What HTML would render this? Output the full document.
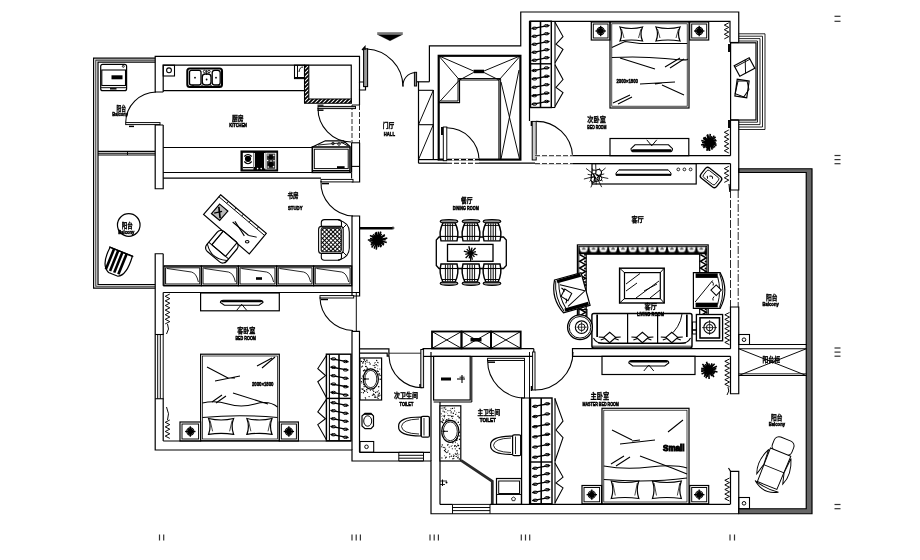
<!DOCTYPE html>
<html><head><meta charset="utf-8"><title>户型平面图</title>
<style>
html,body{margin:0;padding:0;background:#fff;}
body{width:920px;height:560px;overflow:hidden;}
svg{display:block;filter:grayscale(1)}
text{font-family:"Liberation Sans","Noto Sans CJK SC",sans-serif;fill:#000;}
</style></head><body>
<svg width="920" height="560" viewBox="0 0 920 560" shape-rendering="geometricPrecision">
<defs>
<pattern id="dots" width="3" height="3" patternUnits="userSpaceOnUse" patternTransform="rotate(45)"><rect width="3" height="3" fill="#fff"/><path d="M0 0.5 H3 M0.5 0 V3" stroke="#000" stroke-width="0.95"/></pattern>
<pattern id="rugp" width="9.8" height="7.9" patternUnits="userSpaceOnUse" x="578.8" y="246.4"><rect width="9.8" height="7.9" fill="#000"/><path d="M0.5 0.5 H9.3 L8 5.2 Q4.9 6.4 1.8 5.2 Z" fill="#fff"/><path d="M3 2.8 H6.8 M4.9 0.8 V2.8" stroke="#000" stroke-width="0.8"/></pattern>
<clipPath id="hc"><path d="M304.5 65.2 H308.8 V99 H351.4 V103.2 H304.5 Z"/></clipPath>
</defs>
<rect width="920" height="560" fill="#fff"/>
<g>
<path d="M155.20 58.20 L93.60 58.20 L93.60 288.20 L155.20 288.20" stroke="#000" stroke-width="1.20" fill="none" />
<path d="M155.20 60.10 L95.80 60.10 L95.80 286.30 L155.20 286.30" stroke="#333" stroke-width="1.08" fill="none" />
<path d="M155.20 62.10 L98.00 62.10 L98.00 284.50 L155.20 284.50" stroke="#000" stroke-width="1.20" fill="none" />
<line x1="98" y1="151.4" x2="155.2" y2="151.4" stroke="#000" stroke-width="1.08" />
<line x1="98" y1="153.2" x2="155.2" y2="153.2" stroke="#000" stroke-width="1.08" />
<line x1="98" y1="155" x2="155.2" y2="155" stroke="#000" stroke-width="1.08" />
<line x1="127.5" y1="151.4" x2="127.5" y2="155" stroke="#000" stroke-width="0.96" />
<rect x="100.70" y="64.30" width="25.90" height="26.40" rx="2" stroke="#000" stroke-width="1.20" fill="none" />
<rect x="101.80" y="70.00" width="23.70" height="15.50" rx="0" stroke="#000" stroke-width="1.08" fill="none" />
<line x1="101" y1="87.7" x2="126" y2="87.7" stroke="#000" stroke-width="0.96" />
<rect x="111.50" y="75.30" width="11.00" height="4.00" rx="0" stroke="#000" stroke-width="0.00" fill="#000" />
<circle cx="123.30" cy="66.30" r="1" stroke="#000" stroke-width="0.84" fill="none"/>
<line x1="110" y1="88.8" x2="116.5" y2="88.8" stroke="#000" stroke-width="1.44" />
<text x="116.50" y="111.30" font-size="6.74" font-weight="bold" textLength="9.50" lengthAdjust="spacingAndGlyphs" stroke="#000" stroke-width="0.3">阳台</text>
<text x="112.30" y="116.29" font-size="5.87" font-weight="bold" textLength="15.70" lengthAdjust="spacingAndGlyphs" stroke="#000" stroke-width="0.55">Balcony</text>
<path d="M163.20 92.00 L155.20 92.00 L155.20 56.40 L359.50 56.40 L359.50 82.00 L365.50 82.00 L365.50 90.00 L359.50 90.00 L359.50 105.00" stroke="#000" stroke-width="1.20" fill="none" />
<path d="M163.20 92.00 L163.20 65.20 L351.25 65.20 L351.25 99.00" stroke="#000" stroke-width="1.20" fill="none" />
<line x1="163.2" y1="90.6" x2="304.5" y2="90.6" stroke="#000" stroke-width="1.20" />
<rect x="125.70" y="122.60" width="34.30" height="2.00" rx="0" stroke="#000" stroke-width="0.96" fill="#fff" />
<path d="M125.7 122.6 A31 31 0 0 1 156 92" stroke="#000" stroke-width="1.08" fill="none" />
<line x1="129" y1="126.4" x2="134" y2="126.4" stroke="#000" stroke-width="1.44" />
<path d="M163.20 125.00 L155.20 125.00 L155.20 188.75 L163.20 188.75 L163.20 125.00" stroke="#000" stroke-width="1.20" fill="none" />
<line x1="163.2" y1="147.5" x2="312.5" y2="147.5" stroke="#000" stroke-width="1.20" />
<line x1="163.2" y1="172.5" x2="351.25" y2="172.5" stroke="#000" stroke-width="1.20" />
<line x1="163.2" y1="178.2" x2="321" y2="178.2" stroke="#000" stroke-width="1.20" />
<rect x="163.20" y="65.20" width="11.30" height="10.80" rx="0" stroke="#000" stroke-width="1.08" fill="none" />
<circle cx="169.00" cy="70.30" r="2.4" stroke="#000" stroke-width="1.08" fill="none"/>
<rect x="187.30" y="68.40" width="34.70" height="18.60" rx="2.5" stroke="#000" stroke-width="2.04" fill="none" />
<rect x="189.50" y="70.30" width="11.50" height="14.70" rx="2" stroke="#000" stroke-width="1.32" fill="none" />
<rect x="212.20" y="70.30" width="8.00" height="14.70" rx="2.5" stroke="#000" stroke-width="1.32" fill="none" />
<rect x="202.30" y="74.00" width="8.70" height="11.00" rx="3" stroke="#000" stroke-width="1.32" fill="none" />
<circle cx="195.00" cy="77.70" r="0.9" stroke="#000" stroke-width="0.00" fill="#000"/>
<circle cx="216.00" cy="77.70" r="0.9" stroke="#000" stroke-width="0.00" fill="#000"/>
<circle cx="206.60" cy="79.50" r="0.9" stroke="#000" stroke-width="0.00" fill="#000"/>
<circle cx="204.50" cy="71.50" r="1.2" stroke="#000" stroke-width="0.84" fill="none"/>
<circle cx="209.00" cy="71.50" r="1.2" stroke="#000" stroke-width="0.84" fill="none"/>
<line x1="206.7" y1="70" x2="206.7" y2="75" stroke="#000" stroke-width="0.96" />
<circle cx="193.00" cy="86.20" r="0.9" stroke="#000" stroke-width="0.72" fill="none"/>
<circle cx="202.00" cy="86.20" r="0.9" stroke="#000" stroke-width="0.72" fill="none"/>
<circle cx="211.00" cy="86.20" r="0.9" stroke="#000" stroke-width="0.72" fill="none"/>
<circle cx="219.00" cy="86.20" r="0.9" stroke="#000" stroke-width="0.72" fill="none"/>
<rect x="294.50" y="65.20" width="10.00" height="13.40" rx="0" stroke="#000" stroke-width="1.08" fill="none" />
<line x1="297.5" y1="65.2" x2="297.5" y2="78.6" stroke="#000" stroke-width="0.96" />
<path d="M299 72 Q299.5 67 303 67" stroke="#000" stroke-width="0.96" fill="none" />
<line x1="294.5" y1="77.6" x2="304.5" y2="77.6" stroke="#000" stroke-width="1.20" />
<g clip-path="url(#hc)">
<line x1="240" y1="108" x2="285" y2="63" stroke="#000" stroke-width="1.80" />
<line x1="244" y1="108" x2="289" y2="63" stroke="#000" stroke-width="1.80" />
<line x1="248" y1="108" x2="293" y2="63" stroke="#000" stroke-width="1.80" />
<line x1="252" y1="108" x2="297" y2="63" stroke="#000" stroke-width="1.80" />
<line x1="256" y1="108" x2="301" y2="63" stroke="#000" stroke-width="1.80" />
<line x1="260" y1="108" x2="305" y2="63" stroke="#000" stroke-width="1.80" />
<line x1="264" y1="108" x2="309" y2="63" stroke="#000" stroke-width="1.80" />
<line x1="268" y1="108" x2="313" y2="63" stroke="#000" stroke-width="1.80" />
<line x1="272" y1="108" x2="317" y2="63" stroke="#000" stroke-width="1.80" />
<line x1="276" y1="108" x2="321" y2="63" stroke="#000" stroke-width="1.80" />
<line x1="280" y1="108" x2="325" y2="63" stroke="#000" stroke-width="1.80" />
<line x1="284" y1="108" x2="329" y2="63" stroke="#000" stroke-width="1.80" />
<line x1="288" y1="108" x2="333" y2="63" stroke="#000" stroke-width="1.80" />
<line x1="292" y1="108" x2="337" y2="63" stroke="#000" stroke-width="1.80" />
<line x1="296" y1="108" x2="341" y2="63" stroke="#000" stroke-width="1.80" />
<line x1="300" y1="108" x2="345" y2="63" stroke="#000" stroke-width="1.80" />
<line x1="304" y1="108" x2="349" y2="63" stroke="#000" stroke-width="1.80" />
<line x1="308" y1="108" x2="353" y2="63" stroke="#000" stroke-width="1.80" />
<line x1="312" y1="108" x2="357" y2="63" stroke="#000" stroke-width="1.80" />
<line x1="316" y1="108" x2="361" y2="63" stroke="#000" stroke-width="1.80" />
<line x1="320" y1="108" x2="365" y2="63" stroke="#000" stroke-width="1.80" />
<line x1="324" y1="108" x2="369" y2="63" stroke="#000" stroke-width="1.80" />
<line x1="328" y1="108" x2="373" y2="63" stroke="#000" stroke-width="1.80" />
<line x1="332" y1="108" x2="377" y2="63" stroke="#000" stroke-width="1.80" />
<line x1="336" y1="108" x2="381" y2="63" stroke="#000" stroke-width="1.80" />
<line x1="340" y1="108" x2="385" y2="63" stroke="#000" stroke-width="1.80" />
<line x1="344" y1="108" x2="389" y2="63" stroke="#000" stroke-width="1.80" />
<line x1="348" y1="108" x2="393" y2="63" stroke="#000" stroke-width="1.80" />
<line x1="352" y1="108" x2="397" y2="63" stroke="#000" stroke-width="1.80" />
<line x1="356" y1="108" x2="401" y2="63" stroke="#000" stroke-width="1.80" />
<line x1="360" y1="108" x2="405" y2="63" stroke="#000" stroke-width="1.80" />
<line x1="364" y1="108" x2="409" y2="63" stroke="#000" stroke-width="1.80" />
<line x1="368" y1="108" x2="413" y2="63" stroke="#000" stroke-width="1.80" />
<line x1="372" y1="108" x2="417" y2="63" stroke="#000" stroke-width="1.80" />
<line x1="376" y1="108" x2="421" y2="63" stroke="#000" stroke-width="1.80" />
<line x1="380" y1="108" x2="425" y2="63" stroke="#000" stroke-width="1.80" />
<line x1="384" y1="108" x2="429" y2="63" stroke="#000" stroke-width="1.80" />
<line x1="388" y1="108" x2="433" y2="63" stroke="#000" stroke-width="1.80" />
<line x1="392" y1="108" x2="437" y2="63" stroke="#000" stroke-width="1.80" />
<line x1="396" y1="108" x2="441" y2="63" stroke="#000" stroke-width="1.80" />
<line x1="400" y1="108" x2="445" y2="63" stroke="#000" stroke-width="1.80" />
<line x1="404" y1="108" x2="449" y2="63" stroke="#000" stroke-width="1.80" />
<line x1="408" y1="108" x2="453" y2="63" stroke="#000" stroke-width="1.80" />
<line x1="412" y1="108" x2="457" y2="63" stroke="#000" stroke-width="1.80" />
<line x1="416" y1="108" x2="461" y2="63" stroke="#000" stroke-width="1.80" />
</g>
<path d="M304.50 65.20 L308.80 65.20 L308.80 99.00 L351.40 99.00 L351.40 103.20 L304.50 103.20 Z" stroke="#000" stroke-width="1.08" fill="none" />
<line x1="352" y1="105" x2="352" y2="143" stroke="#000" stroke-width="0.84" stroke-dasharray="5 2"/>
<line x1="359.5" y1="105" x2="359.5" y2="143" stroke="#000" stroke-width="0.84" stroke-dasharray="5 2"/>
<line x1="352" y1="105" x2="359.5" y2="105" stroke="#000" stroke-width="0.96" />
<path d="M351.60 142.80 L351.60 172.50" stroke="#000" stroke-width="1.20" fill="none" />
<path d="M359.60 142.80 L359.60 182.00 L351.60 182.00" stroke="#000" stroke-width="1.20" fill="none" />
<line x1="351.6" y1="142.8" x2="359.6" y2="142.8" stroke="#000" stroke-width="1.08" />
<line x1="351.6" y1="166.4" x2="359.6" y2="166.4" stroke="#000" stroke-width="1.08" />
<line x1="351.6" y1="172.5" x2="351.6" y2="178.5" stroke="#000" stroke-width="1.08" />
<rect x="318.00" y="106.40" width="37.50" height="2.20" rx="0" stroke="#000" stroke-width="0.96" fill="#bbb" />
<line x1="317.5" y1="110.2" x2="323.5" y2="110.2" stroke="#000" stroke-width="1.44" />
<line x1="317.5" y1="105.2" x2="323.5" y2="105.2" stroke="#000" stroke-width="1.20" />
<path d="M318 108 A33.5 33.5 0 0 0 351 142" stroke="#000" stroke-width="1.08" fill="none" />
<rect x="241.20" y="151.20" width="36.20" height="19.60" rx="0" stroke="#000" stroke-width="1.44" fill="#000" />
<rect x="242.80" y="152.80" width="10.60" height="16.60" rx="0" stroke="#000" stroke-width="0.00" fill="#fff" />
<circle cx="248.00" cy="158.80" r="3.1" stroke="#000" stroke-width="0.00" fill="#000"/>
<path d="M244.3 156.5 Q248 152.5 251.7 156.5 M244.3 161.5 Q248 166 251.7 161.5" stroke="#000" stroke-width="1.20" fill="none" />
<line x1="243" y1="167.6" x2="253.2" y2="167.6" stroke="#000" stroke-width="1.08" />
<line x1="254.3" y1="153" x2="254.3" y2="167" stroke="#fff" stroke-width="1.08" />
<rect x="265.30" y="152.80" width="11.10" height="16.60" rx="0" stroke="#000" stroke-width="0.00" fill="#fff" />
<line x1="264.6" y1="153" x2="264.6" y2="168.5" stroke="#fff" stroke-width="1.08" />
<rect x="266.60" y="153.60" width="8.60" height="15.20" rx="0" stroke="#000" stroke-width="0.00" fill="#333" />
<circle cx="270.80" cy="157.30" r="2.3" stroke="#000" stroke-width="0.00" fill="#000"/>
<circle cx="270.80" cy="164.30" r="2.6" stroke="#000" stroke-width="0.00" fill="#000"/>
<circle cx="268.00" cy="155.00" r="0.8" stroke="#000" stroke-width="0.00" fill="#fff"/>
<circle cx="273.80" cy="155.20" r="0.8" stroke="#000" stroke-width="0.00" fill="#fff"/>
<circle cx="267.60" cy="160.50" r="0.8" stroke="#000" stroke-width="0.00" fill="#fff"/>
<circle cx="274.00" cy="160.80" r="0.8" stroke="#000" stroke-width="0.00" fill="#fff"/>
<circle cx="268.20" cy="167.00" r="0.8" stroke="#000" stroke-width="0.00" fill="#fff"/>
<circle cx="273.60" cy="166.80" r="0.8" stroke="#000" stroke-width="0.00" fill="#fff"/>
<circle cx="271.00" cy="161.00" r="0.8" stroke="#000" stroke-width="0.00" fill="#fff"/>
<circle cx="257.60" cy="168.60" r="0.8" stroke="#000" stroke-width="0.00" fill="#fff"/>
<circle cx="261.20" cy="168.60" r="0.8" stroke="#000" stroke-width="0.00" fill="#fff"/>
<rect x="312.30" y="147.00" width="37.70" height="25.40" rx="0" stroke="#000" stroke-width="1.56" fill="none" />
<rect x="314.30" y="149.20" width="33.90" height="19.40" rx="0" stroke="#000" stroke-width="0.96" fill="none" />
<line x1="312.3" y1="170.6" x2="350" y2="170.6" stroke="#000" stroke-width="1.44" />
<path d="M312.30 147.00 L325.30 140.80 L343.50 140.80 L350.00 146.50" stroke="#000" stroke-width="1.20" fill="none" />
<line x1="318" y1="145" x2="345" y2="142.5" stroke="#000" stroke-width="0.84" />
<circle cx="333.00" cy="143.50" r="1.3" stroke="#000" stroke-width="0.84" fill="none"/>
<circle cx="339.00" cy="144.00" r="1.3" stroke="#000" stroke-width="0.84" fill="none"/>
<line x1="341" y1="142" x2="348" y2="146" stroke="#000" stroke-width="0.96" />
<rect x="337.00" y="166.20" width="7.60" height="2.20" rx="0" stroke="#000" stroke-width="0.00" fill="#000" />
<text x="232.00" y="120.80" font-size="6.74" font-weight="bold" textLength="11.60" lengthAdjust="spacingAndGlyphs" stroke="#000" stroke-width="0.3">厨房</text>
<text x="229.30" y="127.34" font-size="6.01" font-weight="bold" textLength="17.70" lengthAdjust="spacingAndGlyphs" stroke="#000" stroke-width="0.55">KITCHEN</text>
<rect x="321.00" y="179.40" width="32.00" height="2.50" rx="0" stroke="#000" stroke-width="0.96" fill="#fff" />
<line x1="322" y1="183.6" x2="329" y2="183.6" stroke="#000" stroke-width="1.44" />
<path d="M321 181 A33.5 33.5 0 0 0 353 216" stroke="#000" stroke-width="1.08" fill="none" />
<path d="M352.00 292.50 L352.00 216.00 L359.60 216.00 L359.60 296.00 L352.00 296.00 L352.00 292.50" stroke="#000" stroke-width="1.20" fill="none" />
<path d="M163.20 253.75 L155.20 253.75 L155.20 450.00 L352.00 450.00 L352.00 461.00 L431.00 461.00 L431.00 513.75 L738.75 513.75" stroke="#000" stroke-width="1.20" fill="none" />
<line x1="163.2" y1="253.75" x2="163.2" y2="285.7" stroke="#000" stroke-width="1.20" />
<line x1="163.2" y1="285.7" x2="352" y2="285.7" stroke="#000" stroke-width="1.20" />
<line x1="163.2" y1="292.5" x2="359.5" y2="292.5" stroke="#000" stroke-width="1.20" />
<line x1="164" y1="266" x2="351.7" y2="266" stroke="#000" stroke-width="1.20" />
<rect x="164.00" y="266.00" width="37.40" height="19.70" rx="0" stroke="#000" stroke-width="1.20" fill="none" />
<rect x="165.60" y="267.80" width="34.20" height="16.20" rx="0" stroke="#000" stroke-width="0.96" fill="none" />
<path d="M167 268.5 L191.4 272 Q196.4 273 198.4 282" stroke="#000" stroke-width="0.84" fill="none" />
<rect x="201.40" y="266.00" width="37.00" height="19.70" rx="0" stroke="#000" stroke-width="1.20" fill="none" />
<rect x="203.00" y="267.80" width="33.80" height="16.20" rx="0" stroke="#000" stroke-width="0.96" fill="none" />
<path d="M204.4 268.5 L228.4 272 Q233.4 273 235.4 282" stroke="#000" stroke-width="0.84" fill="none" />
<rect x="238.40" y="266.00" width="38.20" height="19.70" rx="0" stroke="#000" stroke-width="1.20" fill="none" />
<rect x="240.00" y="267.80" width="35.00" height="16.20" rx="0" stroke="#000" stroke-width="0.96" fill="none" />
<path d="M241.4 268.5 L266.6 272 Q271.6 273 273.6 282" stroke="#000" stroke-width="0.84" fill="none" />
<rect x="276.60" y="266.00" width="37.00" height="19.70" rx="0" stroke="#000" stroke-width="1.20" fill="none" />
<rect x="278.20" y="267.80" width="33.80" height="16.20" rx="0" stroke="#000" stroke-width="0.96" fill="none" />
<path d="M279.6 268.5 L303.6 272 Q308.6 273 310.6 282" stroke="#000" stroke-width="0.84" fill="none" />
<rect x="313.60" y="266.00" width="38.10" height="19.70" rx="0" stroke="#000" stroke-width="1.20" fill="none" />
<rect x="315.20" y="267.80" width="34.90" height="16.20" rx="0" stroke="#000" stroke-width="0.96" fill="none" />
<path d="M316.6 268.5 L341.7 272 Q346.7 273 348.7 282" stroke="#000" stroke-width="0.84" fill="none" />
<rect x="256.00" y="277.20" width="6.00" height="2.60" rx="0" stroke="#000" stroke-width="0.00" fill="#000" />
<path d="M220.60 194.80 L266.30 233.40 L249.30 254.00 L203.60 214.40 Z" stroke="#000" stroke-width="1.20" fill="none" />
<path d="M218.90 196.76 L264.60 235.46" stroke="#000" stroke-width="0.96" fill="none" />
<path d="M228.37 201.36 L226.67 203.34" stroke="#000" stroke-width="0.96" fill="none" />
<path d="M236.14 207.92 L234.44 209.92" stroke="#000" stroke-width="0.96" fill="none" />
<path d="M243.45 214.10 L241.75 216.11" stroke="#000" stroke-width="0.96" fill="none" />
<path d="M250.76 220.28 L249.06 222.30" stroke="#000" stroke-width="0.96" fill="none" />
<path d="M258.53 226.84 L256.83 228.88" stroke="#000" stroke-width="0.96" fill="none" />
<path d="M219.61 204.15 L227.84 211.10 L219.68 220.51 L211.45 213.56 Z" stroke="#000" stroke-width="1.20" fill="#bbb" />
<path d="M218.83 206.89 L220.12 218.17" stroke="#000" stroke-width="1.68" fill="none" />
<path d="M214.18 213.15 L222.09 211.34" stroke="#000" stroke-width="1.20" fill="none" />
<path d="M232.66 221.97 L248.66 235.48" stroke="#000" stroke-width="1.08" fill="none" />
<path d="M234.94 221.17 L244.34 235.90" stroke="#000" stroke-width="1.08" fill="none" />
<path d="M248.66 235.48 L256.69 237.17" stroke="#000" stroke-width="0.96" fill="none" />
<ellipse cx="247.20" cy="241.72" rx="1.8" ry="1.2" stroke="#000" stroke-width="1.08" fill="none" />
<g transform="translate(222.5,246) rotate(40)">
<rect x="-13.00" y="-12.00" width="26.00" height="26.00" rx="5" stroke="#000" stroke-width="1.20" fill="#fff" />
<rect x="-9.00" y="-12.00" width="18.00" height="18.00" rx="1" stroke="#000" stroke-width="1.08" fill="none" />
<line x1="-13" y1="6" x2="13" y2="6" stroke="#000" stroke-width="0.96" />
<line x1="-9" y1="-12" x2="-9" y2="6" stroke="#000" stroke-width="0.96" />
<path d="M-13 8 Q0 18 13 8" stroke="#000" stroke-width="0.96" fill="none" />
</g>
<text x="287.50" y="197.70" font-size="6.74" font-weight="bold" textLength="11.00" lengthAdjust="spacingAndGlyphs" stroke="#000" stroke-width="0.3">书房</text>
<text x="288.00" y="209.54" font-size="6.01" font-weight="bold" textLength="14.50" lengthAdjust="spacingAndGlyphs" stroke="#000" stroke-width="0.55">STUDY</text>
<rect x="321.30" y="219.60" width="20.20" height="8.40" rx="3.2" stroke="#000" stroke-width="1.08" fill="#fff" />
<rect x="321.30" y="252.00" width="20.20" height="8.20" rx="3.2" stroke="#000" stroke-width="1.08" fill="#fff" />
<path d="M338 219.7 Q349.3 222.5 349.3 232 V248 Q349.3 257.5 338 260.1" stroke="#000" stroke-width="1.08" fill="none" />
<path d="M343 228 L346.5 224.5 M343 252 L346.5 255.5" stroke="#000" stroke-width="0.96" fill="none" />
<rect x="318.60" y="226.40" width="24.60" height="27.00" rx="3" stroke="#000" stroke-width="1.08" fill="#fff" />
<rect x="321.1" y="228" width="20.3" height="23.8" rx="1.5" fill="url(#dots)" stroke="#000" stroke-width="0.9"/>
<line x1="321.5" y1="227.6" x2="341" y2="227.6" stroke="#333" stroke-width="1.92" />
<circle cx="128.75" cy="225.00" r="11.3" stroke="#000" stroke-width="1.20" fill="none"/>
<text x="121.80" y="228.10" font-size="6.74" font-weight="bold" textLength="11.10" lengthAdjust="spacingAndGlyphs" stroke="#000" stroke-width="0.3">阳台</text>
<text x="118.20" y="233.99" font-size="5.87" font-weight="bold" textLength="16.10" lengthAdjust="spacingAndGlyphs" stroke="#000" stroke-width="0.55">Balcony</text>
<g transform="translate(117.5,261) rotate(22)">
<path d="M-12 -10 Q-14 10 -4 14 L6 14 Q14 10 12 -10 Z" stroke="#000" stroke-width="1.20" fill="#fff" />
<rect x="-9.00" y="-10.00" width="2.60" height="22.00" rx="0" stroke="#000" stroke-width="0.00" fill="#000" />
<rect x="-4.50" y="-10.00" width="2.60" height="22.00" rx="0" stroke="#000" stroke-width="0.00" fill="#000" />
<rect x="0.00" y="-10.00" width="2.60" height="22.00" rx="0" stroke="#000" stroke-width="0.00" fill="#000" />
<rect x="4.50" y="-10.00" width="2.60" height="22.00" rx="0" stroke="#000" stroke-width="0.00" fill="#000" />
<path d="M-13 -10 L13 -10" stroke="#000" stroke-width="1.44" fill="none" />
</g>
<line x1="163.2" y1="292.5" x2="163.2" y2="334.5" stroke="#000" stroke-width="1.20" />
<line x1="163.2" y1="398.75" x2="163.2" y2="441" stroke="#000" stroke-width="1.20" />
<line x1="163.2" y1="441" x2="351" y2="441" stroke="#000" stroke-width="1.20" />
<line x1="155.2" y1="334.5" x2="163.8" y2="334.5" stroke="#000" stroke-width="1.08" />
<line x1="155.2" y1="398.75" x2="163.8" y2="398.75" stroke="#000" stroke-width="1.08" />
<line x1="157.7" y1="334.5" x2="157.7" y2="398.75" stroke="#000" stroke-width="0.96" />
<line x1="160.3" y1="334.5" x2="160.3" y2="398.75" stroke="#000" stroke-width="0.96" />
<line x1="163.2" y1="334.5" x2="163.2" y2="398.75" stroke="#000" stroke-width="0.96" />
<path d="M169.80 294.00 L165.20 296.30 L169.80 298.60 L165.20 300.90 L169.80 303.20 L165.20 305.50 L169.80 307.80 L165.20 310.10 L169.80 312.40 L165.20 314.70 L169.80 317.00 L165.20 319.30 L169.80 321.60 L165.20 323.90" stroke="#000" stroke-width="0.96" fill="none" />
<path d="M167.5 324 q2.5 5 -1 10" stroke="#000" stroke-width="0.96" fill="none" />
<path d="M169.80 420.00 L165.20 422.30 L169.80 424.60 L165.20 426.90 L169.80 429.20 L165.20 431.50 L169.80 433.80 L165.20 436.10 L169.80 438.40" stroke="#000" stroke-width="0.96" fill="none" />
<path d="M167.5 420 q2.5 -6 -1 -13" stroke="#000" stroke-width="0.96" fill="none" />
<rect x="200.60" y="293.00" width="78.70" height="17.80" rx="0" stroke="#000" stroke-width="1.20" fill="none" />
<path d="M223.4 300.3 H260 Q263 300.3 263 302.55 L259 305.3 H224.4 L220.4 302.55 Q220.4 300.3 223.4 300.3 Z" stroke="#000" stroke-width="1.08" fill="#fff" />
<rect x="221.40" y="300.30" width="40.60" height="1.90" rx="1" stroke="#000" stroke-width="0.00" fill="#000" />
<line x1="241.7" y1="304.3" x2="236.7" y2="310.3" stroke="#000" stroke-width="0.96" />
<line x1="241.7" y1="304.3" x2="246.7" y2="310.3" stroke="#000" stroke-width="0.96" />
<rect x="200.60" y="354.20" width="78.70" height="86.60" rx="0" stroke="#000" stroke-width="1.20" fill="none" />
<rect x="202.40" y="356.00" width="75.10" height="83.00" rx="0" stroke="#000" stroke-width="0.72" fill="none" />
<rect x="180.00" y="422.00" width="20.60" height="19.00" rx="0" stroke="#000" stroke-width="1.20" fill="none" />
<rect x="182.00" y="424.00" width="16.60" height="15.00" rx="0" stroke="#000" stroke-width="0.96" fill="none" />
<circle cx="190.30" cy="431.50" r="3.6" stroke="#000" stroke-width="1.08" fill="none"/>
<circle cx="190.30" cy="431.50" r="3.0" stroke="#000" stroke-width="0.00" fill="#000"/>
<line x1="185.10000000000002" y1="431.5" x2="195.5" y2="431.5" stroke="#000" stroke-width="1.32" />
<line x1="190.3" y1="426.3" x2="190.3" y2="436.7" stroke="#000" stroke-width="1.32" />
<rect x="279.30" y="422.00" width="19.10" height="19.00" rx="0" stroke="#000" stroke-width="1.20" fill="none" />
<rect x="281.30" y="424.00" width="15.10" height="15.00" rx="0" stroke="#000" stroke-width="0.96" fill="none" />
<circle cx="288.85" cy="431.50" r="3.6" stroke="#000" stroke-width="1.08" fill="none"/>
<circle cx="288.85" cy="431.50" r="3.0" stroke="#000" stroke-width="0.00" fill="#000"/>
<line x1="283.65000000000003" y1="431.5" x2="294.05" y2="431.5" stroke="#000" stroke-width="1.32" />
<line x1="288.85" y1="426.3" x2="288.85" y2="436.7" stroke="#000" stroke-width="1.32" />
<path d="M208.6 418.5 Q221.1 421.5 233.6 418.5 Q230.6 426.4 233.6 434.3 Q221.1 432.3 208.6 434.3 Q211.6 426.4 208.6 418.5Z" stroke="#000" stroke-width="1.20" fill="none" />
<path d="M210.1 420.5 L212.6 431.3 M232.1 420.5 L229.6 431.3" stroke="#000" stroke-width="0.72" fill="none" />
<path d="M246.9 418.5 Q259.45 421.5 272 418.5 Q269 426.4 272 434.3 Q259.45 432.3 246.9 434.3 Q249.9 426.4 246.9 418.5Z" stroke="#000" stroke-width="1.20" fill="none" />
<path d="M248.4 420.5 L250.9 431.3 M270.5 420.5 L268 431.3" stroke="#000" stroke-width="0.72" fill="none" />
<path d="M202.4 403 Q215 400 228 404 T255 404 T277.5 407" stroke="#000" stroke-width="1.08" fill="none" />
<path d="M202.4 417.5 Q240 414 277.5 417.5" stroke="#000" stroke-width="1.08" fill="none" />
<path d="M207 367 L228 378 M215 381 L240 376 M228 378 L235 378 M257 366 L272 358 M262 368 L275 357 M233 393 L268 404 M212 402 L222 395 M216 403 L226 396" stroke="#000" stroke-width="1.08" fill="none" />
<text x="251.90" y="386.04" font-size="6.01" font-weight="bold" textLength="21.50" lengthAdjust="spacingAndGlyphs" stroke="#000" stroke-width="0.5">2000×1800</text>
<text x="237.20" y="332.84" font-size="7.07" font-weight="bold" textLength="18.20" lengthAdjust="spacingAndGlyphs" stroke="#000" stroke-width="0.3">客卧室</text>
<text x="235.40" y="339.94" font-size="6.01" font-weight="bold" textLength="20.50" lengthAdjust="spacingAndGlyphs" stroke="#000" stroke-width="0.55">BED ROOM</text>
<rect x="326.40" y="354.20" width="24.60" height="86.60" rx="0" stroke="#000" stroke-width="1.44" fill="none" />
<line x1="329.4" y1="354.2" x2="329.4" y2="440.8" stroke="#000" stroke-width="1.08" />
<line x1="339" y1="354.2" x2="339" y2="440.8" stroke="#000" stroke-width="1.56" />
<line x1="326.4" y1="398.4" x2="351" y2="398.4" stroke="#000" stroke-width="1.44" />
<line x1="330.5" y1="358.59999999999997" x2="348.5" y2="361.8" stroke="#000" stroke-width="1.32" />
<ellipse cx="333.50" cy="358.90" rx="2.3" ry="1.2" stroke="#000" stroke-width="0.96" fill="none" />
<ellipse cx="345.50" cy="361.50" rx="2.3" ry="1.2" stroke="#000" stroke-width="0.96" fill="none" />
<line x1="330.5" y1="367.0" x2="348.5" y2="370.20000000000005" stroke="#000" stroke-width="1.32" />
<ellipse cx="333.50" cy="367.30" rx="2.3" ry="1.2" stroke="#000" stroke-width="0.96" fill="none" />
<ellipse cx="345.50" cy="369.90" rx="2.3" ry="1.2" stroke="#000" stroke-width="0.96" fill="none" />
<line x1="330.5" y1="375.4" x2="348.5" y2="378.6" stroke="#000" stroke-width="1.32" />
<ellipse cx="333.50" cy="375.70" rx="2.3" ry="1.2" stroke="#000" stroke-width="0.96" fill="none" />
<ellipse cx="345.50" cy="378.30" rx="2.3" ry="1.2" stroke="#000" stroke-width="0.96" fill="none" />
<line x1="330.5" y1="383.79999999999995" x2="348.5" y2="387.0" stroke="#000" stroke-width="1.32" />
<ellipse cx="333.50" cy="384.10" rx="2.3" ry="1.2" stroke="#000" stroke-width="0.96" fill="none" />
<ellipse cx="345.50" cy="386.70" rx="2.3" ry="1.2" stroke="#000" stroke-width="0.96" fill="none" />
<line x1="330.5" y1="392.2" x2="348.5" y2="395.40000000000003" stroke="#000" stroke-width="1.32" />
<ellipse cx="333.50" cy="392.50" rx="2.3" ry="1.2" stroke="#000" stroke-width="0.96" fill="none" />
<ellipse cx="345.50" cy="395.10" rx="2.3" ry="1.2" stroke="#000" stroke-width="0.96" fill="none" />
<line x1="330.5" y1="402.4" x2="348.5" y2="405.6" stroke="#000" stroke-width="1.32" />
<ellipse cx="333.50" cy="402.70" rx="2.3" ry="1.2" stroke="#000" stroke-width="0.96" fill="none" />
<ellipse cx="345.50" cy="405.30" rx="2.3" ry="1.2" stroke="#000" stroke-width="0.96" fill="none" />
<line x1="330.5" y1="410.4" x2="348.5" y2="413.6" stroke="#000" stroke-width="1.32" />
<ellipse cx="333.50" cy="410.70" rx="2.3" ry="1.2" stroke="#000" stroke-width="0.96" fill="none" />
<ellipse cx="345.50" cy="413.30" rx="2.3" ry="1.2" stroke="#000" stroke-width="0.96" fill="none" />
<line x1="330.5" y1="418.4" x2="348.5" y2="421.6" stroke="#000" stroke-width="1.32" />
<ellipse cx="333.50" cy="418.70" rx="2.3" ry="1.2" stroke="#000" stroke-width="0.96" fill="none" />
<ellipse cx="345.50" cy="421.30" rx="2.3" ry="1.2" stroke="#000" stroke-width="0.96" fill="none" />
<line x1="330.5" y1="426.4" x2="348.5" y2="429.6" stroke="#000" stroke-width="1.32" />
<ellipse cx="333.50" cy="426.70" rx="2.3" ry="1.2" stroke="#000" stroke-width="0.96" fill="none" />
<ellipse cx="345.50" cy="429.30" rx="2.3" ry="1.2" stroke="#000" stroke-width="0.96" fill="none" />
<line x1="330.5" y1="434.4" x2="348.5" y2="437.6" stroke="#000" stroke-width="1.32" />
<ellipse cx="333.50" cy="434.70" rx="2.3" ry="1.2" stroke="#000" stroke-width="0.96" fill="none" />
<ellipse cx="345.50" cy="437.30" rx="2.3" ry="1.2" stroke="#000" stroke-width="0.96" fill="none" />
<path d="M326.40 355.50 L317.80 368.55 L325.50 375.57 L317.80 381.72 L326.40 397.40" stroke="#000" stroke-width="1.08" fill="none" />
<path d="M326.40 399.40 L317.80 411.97 L325.50 418.75 L317.80 424.69 L326.40 439.80" stroke="#000" stroke-width="1.08" fill="none" />
<rect x="320.00" y="295.60" width="33.70" height="2.40" rx="0" stroke="#000" stroke-width="0.96" fill="#fff" />
<line x1="321" y1="299.5" x2="328" y2="299.5" stroke="#000" stroke-width="1.44" />
<path d="M320 297.5 A33.5 33.5 0 0 0 353 330.5" stroke="#000" stroke-width="1.08" fill="none" />
<line x1="356.3" y1="292.5" x2="356.3" y2="331.3" stroke="#000" stroke-width="0.96" />
<path d="M352.00 450.00 L352.00 331.30 L359.50 331.30 L359.50 452.30" stroke="#000" stroke-width="1.20" fill="none" />
<path d="M359.50 348.90 L388.90 348.90 L388.90 356.20 L387.20 356.20 L387.20 353.20 L359.50 353.20" stroke="#000" stroke-width="1.20" fill="none" />
<line x1="388.9" y1="353.2" x2="421" y2="353.2" stroke="#000" stroke-width="0.84" />
<rect x="420.80" y="349.50" width="2.80" height="38.20" rx="0" stroke="#000" stroke-width="0.96" fill="#ddd" />
<path d="M389 356.2 A33 33 0 0 0 422.5 387.7" stroke="#000" stroke-width="1.08" fill="none" />
<line x1="420" y1="388" x2="420" y2="384" stroke="#000" stroke-width="1.44" />
<line x1="422.5" y1="348.7" x2="533.8" y2="348.7" stroke="#000" stroke-width="1.20" />
<path d="M423.40 356.40 L431.00 356.40" stroke="#000" stroke-width="1.20" fill="none" />
<line x1="431" y1="352" x2="431" y2="461" stroke="#000" stroke-width="1.20" />
<line x1="359.5" y1="452.3" x2="430" y2="452.3" stroke="#000" stroke-width="1.20" />
<line x1="398.8" y1="452.3" x2="423.5" y2="452.3" stroke="#000" stroke-width="0.96" />
<line x1="398.8" y1="455.3" x2="423.5" y2="455.3" stroke="#000" stroke-width="0.96" />
<line x1="398.8" y1="458.2" x2="423.5" y2="458.2" stroke="#000" stroke-width="0.96" />
<line x1="398.8" y1="461" x2="423.5" y2="461" stroke="#000" stroke-width="0.96" />
<line x1="398.8" y1="452.3" x2="398.8" y2="461" stroke="#000" stroke-width="0.96" />
<line x1="423.5" y1="452.3" x2="423.5" y2="461" stroke="#000" stroke-width="0.96" />
<rect x="360.00" y="358.00" width="21.60" height="42.00" rx="0" stroke="#000" stroke-width="1.20" fill="#fff" />
<circle cx="365.66" cy="380.77" r="0.5479820666192318" stroke="#000" stroke-width="0.00" fill="#000"/>
<circle cx="372.84" cy="384.03" r="0.4262115436959253" stroke="#000" stroke-width="0.00" fill="#000"/>
<circle cx="361.26" cy="392.50" r="0.5037416057312031" stroke="#000" stroke-width="0.00" fill="#000"/>
<circle cx="365.59" cy="398.83" r="0.5881054030089792" stroke="#000" stroke-width="0.00" fill="#000"/>
<circle cx="377.39" cy="378.05" r="0.6556272562176648" stroke="#000" stroke-width="0.00" fill="#000"/>
<circle cx="363.95" cy="384.39" r="0.7472181228573187" stroke="#000" stroke-width="0.00" fill="#000"/>
<circle cx="371.25" cy="388.65" r="0.668564590147837" stroke="#000" stroke-width="0.00" fill="#000"/>
<circle cx="362.26" cy="389.33" r="0.6364398331725271" stroke="#000" stroke-width="0.00" fill="#000"/>
<circle cx="366.90" cy="360.24" r="0.7462108947915783" stroke="#000" stroke-width="0.00" fill="#000"/>
<circle cx="370.27" cy="387.75" r="0.7515251201021927" stroke="#000" stroke-width="0.00" fill="#000"/>
<circle cx="375.00" cy="395.84" r="0.5579853616002977" stroke="#000" stroke-width="0.00" fill="#000"/>
<circle cx="376.70" cy="376.78" r="0.7742346886818084" stroke="#000" stroke-width="0.00" fill="#000"/>
<circle cx="378.23" cy="362.90" r="0.4543875440802676" stroke="#000" stroke-width="0.00" fill="#000"/>
<circle cx="365.25" cy="397.62" r="0.5744647466509718" stroke="#000" stroke-width="0.00" fill="#000"/>
<circle cx="373.28" cy="371.04" r="0.6028971935316239" stroke="#000" stroke-width="0.00" fill="#000"/>
<circle cx="368.56" cy="373.04" r="0.6340296429621455" stroke="#000" stroke-width="0.00" fill="#000"/>
<circle cx="372.45" cy="395.17" r="0.6727928546539867" stroke="#000" stroke-width="0.00" fill="#000"/>
<circle cx="379.21" cy="393.26" r="0.7963958579475261" stroke="#000" stroke-width="0.00" fill="#000"/>
<circle cx="374.16" cy="365.52" r="0.7442550132465073" stroke="#000" stroke-width="0.00" fill="#000"/>
<circle cx="379.91" cy="395.19" r="0.6276430013897294" stroke="#000" stroke-width="0.00" fill="#000"/>
<circle cx="374.99" cy="367.44" r="0.7326431721093417" stroke="#000" stroke-width="0.00" fill="#000"/>
<circle cx="372.24" cy="370.40" r="0.42538423085809174" stroke="#000" stroke-width="0.00" fill="#000"/>
<circle cx="377.74" cy="398.59" r="0.43540723724389135" stroke="#000" stroke-width="0.00" fill="#000"/>
<circle cx="376.69" cy="375.42" r="0.46030614978112383" stroke="#000" stroke-width="0.00" fill="#000"/>
<circle cx="366.76" cy="389.75" r="0.7491068098512805" stroke="#000" stroke-width="0.00" fill="#000"/>
<circle cx="361.87" cy="383.58" r="0.4179760973984145" stroke="#000" stroke-width="0.00" fill="#000"/>
<circle cx="375.08" cy="372.24" r="0.7523621228989432" stroke="#000" stroke-width="0.00" fill="#000"/>
<circle cx="380.22" cy="379.22" r="0.7994035781503106" stroke="#000" stroke-width="0.00" fill="#000"/>
<circle cx="367.07" cy="362.08" r="0.6399051235186404" stroke="#000" stroke-width="0.00" fill="#000"/>
<circle cx="361.62" cy="366.90" r="0.5631744542467964" stroke="#000" stroke-width="0.00" fill="#000"/>
<circle cx="372.97" cy="365.25" r="0.4169743298884817" stroke="#000" stroke-width="0.00" fill="#000"/>
<circle cx="378.01" cy="371.55" r="0.783463770563382" stroke="#000" stroke-width="0.00" fill="#000"/>
<circle cx="378.57" cy="374.11" r="0.5841638531383619" stroke="#000" stroke-width="0.00" fill="#000"/>
<circle cx="371.19" cy="384.76" r="0.6382600953607882" stroke="#000" stroke-width="0.00" fill="#000"/>
<circle cx="371.96" cy="383.81" r="0.7762485021695853" stroke="#000" stroke-width="0.00" fill="#000"/>
<circle cx="370.94" cy="376.25" r="0.6881245008576553" stroke="#000" stroke-width="0.00" fill="#000"/>
<circle cx="365.66" cy="371.04" r="0.7911189265794542" stroke="#000" stroke-width="0.00" fill="#000"/>
<circle cx="371.21" cy="380.94" r="0.40458299454568764" stroke="#000" stroke-width="0.00" fill="#000"/>
<circle cx="369.14" cy="382.20" r="0.40802115612183976" stroke="#000" stroke-width="0.00" fill="#000"/>
<circle cx="373.07" cy="384.29" r="0.42403220425108923" stroke="#000" stroke-width="0.00" fill="#000"/>
<circle cx="373.30" cy="377.65" r="0.6717125592152435" stroke="#000" stroke-width="0.00" fill="#000"/>
<circle cx="367.91" cy="387.28" r="0.6952137157008138" stroke="#000" stroke-width="0.00" fill="#000"/>
<circle cx="361.43" cy="361.42" r="0.6704081237949507" stroke="#000" stroke-width="0.00" fill="#000"/>
<circle cx="379.88" cy="369.04" r="0.5825248518545517" stroke="#000" stroke-width="0.00" fill="#000"/>
<circle cx="372.62" cy="371.80" r="0.5455820357359829" stroke="#000" stroke-width="0.00" fill="#000"/>
<circle cx="367.13" cy="373.77" r="0.6382486023430146" stroke="#000" stroke-width="0.00" fill="#000"/>
<circle cx="366.89" cy="374.09" r="0.7089093649776484" stroke="#000" stroke-width="0.00" fill="#000"/>
<circle cx="361.53" cy="381.77" r="0.6940692726714038" stroke="#000" stroke-width="0.00" fill="#000"/>
<circle cx="367.08" cy="367.90" r="0.7215230681579654" stroke="#000" stroke-width="0.00" fill="#000"/>
<circle cx="365.68" cy="366.50" r="0.5740937282131284" stroke="#000" stroke-width="0.00" fill="#000"/>
<circle cx="374.68" cy="363.07" r="0.5287863938485058" stroke="#000" stroke-width="0.00" fill="#000"/>
<circle cx="367.54" cy="392.34" r="0.5753722930245548" stroke="#000" stroke-width="0.00" fill="#000"/>
<circle cx="377.77" cy="365.77" r="0.5346840940179524" stroke="#000" stroke-width="0.00" fill="#000"/>
<circle cx="373.74" cy="394.40" r="0.580440873714089" stroke="#000" stroke-width="0.00" fill="#000"/>
<circle cx="365.41" cy="363.84" r="0.6118510513233574" stroke="#000" stroke-width="0.00" fill="#000"/>
<circle cx="364.74" cy="391.27" r="0.7353905516112903" stroke="#000" stroke-width="0.00" fill="#000"/>
<circle cx="364.60" cy="370.14" r="0.7228905672667815" stroke="#000" stroke-width="0.00" fill="#000"/>
<circle cx="373.58" cy="391.25" r="0.5381131219550394" stroke="#000" stroke-width="0.00" fill="#000"/>
<circle cx="363.54" cy="370.68" r="0.717544769793666" stroke="#000" stroke-width="0.00" fill="#000"/>
<circle cx="366.32" cy="372.85" r="0.5667622783493959" stroke="#000" stroke-width="0.00" fill="#000"/>
<circle cx="369.23" cy="375.38" r="0.7682449531950523" stroke="#000" stroke-width="0.00" fill="#000"/>
<circle cx="364.06" cy="359.19" r="0.7773071343676435" stroke="#000" stroke-width="0.00" fill="#000"/>
<circle cx="378.25" cy="398.48" r="0.5737409250702605" stroke="#000" stroke-width="0.00" fill="#000"/>
<circle cx="379.62" cy="396.10" r="0.4888362945089285" stroke="#000" stroke-width="0.00" fill="#000"/>
<circle cx="375.61" cy="392.47" r="0.6651948802113963" stroke="#000" stroke-width="0.00" fill="#000"/>
<circle cx="371.17" cy="370.56" r="0.5364274856141332" stroke="#000" stroke-width="0.00" fill="#000"/>
<circle cx="365.46" cy="361.72" r="0.6354710876076345" stroke="#000" stroke-width="0.00" fill="#000"/>
<circle cx="366.63" cy="391.41" r="0.41803072403414393" stroke="#000" stroke-width="0.00" fill="#000"/>
<circle cx="378.71" cy="386.75" r="0.7695419198228969" stroke="#000" stroke-width="0.00" fill="#000"/>
<circle cx="378.57" cy="394.99" r="0.6307813616077806" stroke="#000" stroke-width="0.00" fill="#000"/>
<circle cx="361.26" cy="388.81" r="0.46872863621469485" stroke="#000" stroke-width="0.00" fill="#000"/>
<circle cx="366.88" cy="385.52" r="0.60998565416633" stroke="#000" stroke-width="0.00" fill="#000"/>
<circle cx="369.11" cy="396.56" r="0.6448655638503651" stroke="#000" stroke-width="0.00" fill="#000"/>
<circle cx="367.69" cy="369.10" r="0.7446658865838669" stroke="#000" stroke-width="0.00" fill="#000"/>
<circle cx="370.35" cy="390.29" r="0.5407366520786381" stroke="#000" stroke-width="0.00" fill="#000"/>
<circle cx="364.87" cy="380.39" r="0.7267243388867692" stroke="#000" stroke-width="0.00" fill="#000"/>
<circle cx="364.36" cy="390.67" r="0.7687066045094528" stroke="#000" stroke-width="0.00" fill="#000"/>
<circle cx="376.80" cy="391.94" r="0.40300188805908366" stroke="#000" stroke-width="0.00" fill="#000"/>
<circle cx="373.32" cy="393.50" r="0.4199727408781318" stroke="#000" stroke-width="0.00" fill="#000"/>
<circle cx="366.32" cy="369.74" r="0.6109064713706733" stroke="#000" stroke-width="0.00" fill="#000"/>
<circle cx="369.29" cy="377.92" r="0.710599064289111" stroke="#000" stroke-width="0.00" fill="#000"/>
<circle cx="361.04" cy="361.19" r="0.45074531449730654" stroke="#000" stroke-width="0.00" fill="#000"/>
<circle cx="363.44" cy="361.74" r="0.7898770124703977" stroke="#000" stroke-width="0.00" fill="#000"/>
<circle cx="377.75" cy="362.45" r="0.6008480027019726" stroke="#000" stroke-width="0.00" fill="#000"/>
<circle cx="367.19" cy="371.58" r="0.5405158233219299" stroke="#000" stroke-width="0.00" fill="#000"/>
<circle cx="373.68" cy="382.46" r="0.5443338342455938" stroke="#000" stroke-width="0.00" fill="#000"/>
<circle cx="364.75" cy="372.15" r="0.4495020095336738" stroke="#000" stroke-width="0.00" fill="#000"/>
<circle cx="371.89" cy="387.64" r="0.5520952248433015" stroke="#000" stroke-width="0.00" fill="#000"/>
<circle cx="362.57" cy="366.14" r="0.5493098302507933" stroke="#000" stroke-width="0.00" fill="#000"/>
<circle cx="372.85" cy="390.30" r="0.5521058727403773" stroke="#000" stroke-width="0.00" fill="#000"/>
<circle cx="376.70" cy="383.92" r="0.5726374389322543" stroke="#000" stroke-width="0.00" fill="#000"/>
<circle cx="368.30" cy="378.85" r="0.6811522642223495" stroke="#000" stroke-width="0.00" fill="#000"/>
<circle cx="369.24" cy="386.76" r="0.5843359649715577" stroke="#000" stroke-width="0.00" fill="#000"/>
<circle cx="365.80" cy="380.43" r="0.6780676591095389" stroke="#000" stroke-width="0.00" fill="#000"/>
<circle cx="362.40" cy="376.00" r="0.5703420225690778" stroke="#000" stroke-width="0.00" fill="#000"/>
<circle cx="378.24" cy="396.46" r="0.5496942787433011" stroke="#000" stroke-width="0.00" fill="#000"/>
<circle cx="378.60" cy="390.64" r="0.504871890310797" stroke="#000" stroke-width="0.00" fill="#000"/>
<circle cx="370.10" cy="363.93" r="0.7252886823759302" stroke="#000" stroke-width="0.00" fill="#000"/>
<circle cx="373.98" cy="394.49" r="0.7169877540362762" stroke="#000" stroke-width="0.00" fill="#000"/>
<circle cx="374.08" cy="388.35" r="0.6255375818370918" stroke="#000" stroke-width="0.00" fill="#000"/>
<circle cx="363.02" cy="382.51" r="0.4019605114267696" stroke="#000" stroke-width="0.00" fill="#000"/>
<circle cx="363.81" cy="389.97" r="0.41772514440776826" stroke="#000" stroke-width="0.00" fill="#000"/>
<circle cx="362.80" cy="362.97" r="0.7521871667377971" stroke="#000" stroke-width="0.00" fill="#000"/>
<circle cx="364.51" cy="359.94" r="0.7366142298349756" stroke="#000" stroke-width="0.00" fill="#000"/>
<circle cx="363.38" cy="392.76" r="0.6694139077720676" stroke="#000" stroke-width="0.00" fill="#000"/>
<circle cx="377.39" cy="397.10" r="0.6316305676084224" stroke="#000" stroke-width="0.00" fill="#000"/>
<circle cx="376.66" cy="360.45" r="0.7069674151052158" stroke="#000" stroke-width="0.00" fill="#000"/>
<circle cx="371.02" cy="387.61" r="0.4426974789931249" stroke="#000" stroke-width="0.00" fill="#000"/>
<circle cx="375.68" cy="396.38" r="0.4244557993117512" stroke="#000" stroke-width="0.00" fill="#000"/>
<circle cx="367.36" cy="381.56" r="0.731223732463532" stroke="#000" stroke-width="0.00" fill="#000"/>
<circle cx="365.75" cy="366.19" r="0.49998643235606277" stroke="#000" stroke-width="0.00" fill="#000"/>
<circle cx="373.07" cy="389.14" r="0.5574919797566416" stroke="#000" stroke-width="0.00" fill="#000"/>
<circle cx="368.20" cy="374.87" r="0.5401137934822998" stroke="#000" stroke-width="0.00" fill="#000"/>
<circle cx="369.20" cy="362.33" r="0.6001238442518237" stroke="#000" stroke-width="0.00" fill="#000"/>
<circle cx="380.07" cy="375.51" r="0.6989636002990343" stroke="#000" stroke-width="0.00" fill="#000"/>
<circle cx="364.15" cy="386.63" r="0.7024464088077099" stroke="#000" stroke-width="0.00" fill="#000"/>
<circle cx="374.21" cy="379.68" r="0.5934883569364984" stroke="#000" stroke-width="0.00" fill="#000"/>
<circle cx="373.60" cy="394.90" r="0.45973095942313486" stroke="#000" stroke-width="0.00" fill="#000"/>
<circle cx="362.88" cy="388.93" r="0.7666457524855106" stroke="#000" stroke-width="0.00" fill="#000"/>
<circle cx="371.14" cy="376.72" r="0.6875642563644208" stroke="#000" stroke-width="0.00" fill="#000"/>
<circle cx="364.65" cy="369.69" r="0.47967193468378544" stroke="#000" stroke-width="0.00" fill="#000"/>
<circle cx="372.48" cy="371.59" r="0.49292207017985273" stroke="#000" stroke-width="0.00" fill="#000"/>
<circle cx="374.55" cy="397.14" r="0.5183454533558638" stroke="#000" stroke-width="0.00" fill="#000"/>
<circle cx="374.82" cy="375.53" r="0.7414557891624389" stroke="#000" stroke-width="0.00" fill="#000"/>
<circle cx="372.46" cy="369.69" r="0.48704195114143883" stroke="#000" stroke-width="0.00" fill="#000"/>
<circle cx="361.45" cy="378.18" r="0.553100041152907" stroke="#000" stroke-width="0.00" fill="#000"/>
<circle cx="364.38" cy="373.42" r="0.5288168623524775" stroke="#000" stroke-width="0.00" fill="#000"/>
<circle cx="376.17" cy="364.74" r="0.7964871725367064" stroke="#000" stroke-width="0.00" fill="#000"/>
<circle cx="370.40" cy="382.96" r="0.5872211831227452" stroke="#000" stroke-width="0.00" fill="#000"/>
<circle cx="377.36" cy="391.86" r="0.6228484989040203" stroke="#000" stroke-width="0.00" fill="#000"/>
<circle cx="370.43" cy="387.83" r="0.7426595775710204" stroke="#000" stroke-width="0.00" fill="#000"/>
<circle cx="368.85" cy="388.34" r="0.7841035486633967" stroke="#000" stroke-width="0.00" fill="#000"/>
<circle cx="370.16" cy="368.18" r="0.4939114887960251" stroke="#000" stroke-width="0.00" fill="#000"/>
<circle cx="375.07" cy="386.01" r="0.783485878161704" stroke="#000" stroke-width="0.00" fill="#000"/>
<circle cx="377.74" cy="368.68" r="0.47584926717222" stroke="#000" stroke-width="0.00" fill="#000"/>
<circle cx="366.07" cy="366.49" r="0.6818937262151927" stroke="#000" stroke-width="0.00" fill="#000"/>
<circle cx="377.83" cy="394.99" r="0.5020031725457592" stroke="#000" stroke-width="0.00" fill="#000"/>
<circle cx="377.96" cy="371.54" r="0.5693181159822884" stroke="#000" stroke-width="0.00" fill="#000"/>
<circle cx="375.29" cy="362.44" r="0.43705693264059964" stroke="#000" stroke-width="0.00" fill="#000"/>
<circle cx="377.35" cy="370.67" r="0.5426644338737635" stroke="#000" stroke-width="0.00" fill="#000"/>
<circle cx="372.37" cy="386.02" r="0.40275347837622216" stroke="#000" stroke-width="0.00" fill="#000"/>
<circle cx="367.56" cy="376.45" r="0.5943602117239425" stroke="#000" stroke-width="0.00" fill="#000"/>
<circle cx="365.12" cy="382.40" r="0.782134921818921" stroke="#000" stroke-width="0.00" fill="#000"/>
<circle cx="368.66" cy="380.77" r="0.4476706799368584" stroke="#000" stroke-width="0.00" fill="#000"/>
<circle cx="366.39" cy="385.62" r="0.4450116021586038" stroke="#000" stroke-width="0.00" fill="#000"/>
<circle cx="378.39" cy="395.35" r="0.43876226105597177" stroke="#000" stroke-width="0.00" fill="#000"/>
<circle cx="379.45" cy="373.97" r="0.7089676987184077" stroke="#000" stroke-width="0.00" fill="#000"/>
<circle cx="375.84" cy="370.82" r="0.6703548779188593" stroke="#000" stroke-width="0.00" fill="#000"/>
<circle cx="373.82" cy="391.24" r="0.5062366965626653" stroke="#000" stroke-width="0.00" fill="#000"/>
<circle cx="375.78" cy="397.45" r="0.6691300200404147" stroke="#000" stroke-width="0.00" fill="#000"/>
<ellipse cx="370.80" cy="379.00" rx="7.6" ry="10.2" stroke="#000" stroke-width="1.20" fill="#fff" />
<ellipse cx="370.80" cy="379.00" rx="6" ry="8.6" stroke="#000" stroke-width="0.84" fill="none" />
<line x1="363.5" y1="379" x2="369" y2="379" stroke="#000" stroke-width="0.96" />
<circle cx="365.00" cy="379.00" r="0.9" stroke="#000" stroke-width="0.00" fill="#000"/>
<path d="M362 416 L365 413.3 L371 413.3 L373.5 416 L373.5 426 L371 428.7 L365 428.7 L362 426 Z" stroke="#000" stroke-width="1.20" fill="none" />
<ellipse cx="367.70" cy="421.00" rx="4" ry="5.2" stroke="#000" stroke-width="0.96" fill="none" />
<line x1="363" y1="414.5" x2="372.5" y2="414.5" stroke="#000" stroke-width="0.84" />
<path d="M421 417 Q398 417 398.6 426.5 Q398 436 421 436 Z" stroke="#000" stroke-width="1.20" fill="#fff" />
<path d="M419 419 Q402 419.5 401.5 426.5 Q402 433.5 419 434" stroke="#000" stroke-width="0.84" fill="none" />
<rect x="421.30" y="416.30" width="8.10" height="20.90" rx="1.5" stroke="#000" stroke-width="1.20" fill="#fff" />
<line x1="424" y1="418" x2="424" y2="435.5" stroke="#000" stroke-width="0.84" />
<rect x="360.00" y="441.50" width="13.70" height="10.80" rx="0" stroke="#000" stroke-width="1.08" fill="none" />
<circle cx="366.50" cy="446.80" r="1.8" stroke="#000" stroke-width="0.96" fill="none"/>
<text x="394.00" y="398.49" font-size="6.96" font-weight="bold" textLength="24.00" lengthAdjust="spacingAndGlyphs" stroke="#000" stroke-width="0.3">次卫生间</text>
<text x="399.60" y="405.84" font-size="6.01" font-weight="bold" textLength="13.70" lengthAdjust="spacingAndGlyphs" stroke="#000" stroke-width="0.55">TOILET</text>
<rect x="432.00" y="331.50" width="29.50" height="16.90" rx="0" stroke="#000" stroke-width="1.80" fill="none" />
<line x1="432" y1="331.5" x2="461.5" y2="348.4" stroke="#000" stroke-width="0.96" />
<line x1="432" y1="348.4" x2="461.5" y2="331.5" stroke="#000" stroke-width="0.96" />
<rect x="461.50" y="331.50" width="29.50" height="16.90" rx="0" stroke="#000" stroke-width="1.80" fill="none" />
<line x1="461.5" y1="331.5" x2="491" y2="348.4" stroke="#000" stroke-width="0.96" />
<line x1="461.5" y1="348.4" x2="491" y2="331.5" stroke="#000" stroke-width="0.96" />
<rect x="491.00" y="331.50" width="29.70" height="16.90" rx="0" stroke="#000" stroke-width="1.80" fill="none" />
<line x1="491" y1="331.5" x2="520.7" y2="348.4" stroke="#000" stroke-width="0.96" />
<line x1="491" y1="348.4" x2="520.7" y2="331.5" stroke="#000" stroke-width="0.96" />
<rect x="470.50" y="338.00" width="11.00" height="3.50" rx="0" stroke="#000" stroke-width="0.00" fill="#000" />
<line x1="431" y1="356.4" x2="533.5" y2="356.4" stroke="#000" stroke-width="1.20" />
<line x1="533.8" y1="348.7" x2="533.8" y2="352" stroke="#000" stroke-width="1.20" />
<line x1="440" y1="402" x2="440" y2="504.4" stroke="#000" stroke-width="1.20" />
<rect x="433.60" y="356.40" width="36.60" height="43.60" rx="0" stroke="#000" stroke-width="1.20" fill="none" />
<line x1="471.8" y1="356.4" x2="471.8" y2="402" stroke="#000" stroke-width="1.08" />
<line x1="433.6" y1="402" x2="471.8" y2="402" stroke="#000" stroke-width="1.08" />
<rect x="441.00" y="377.50" width="10.00" height="3.00" rx="0" stroke="#000" stroke-width="0.00" fill="#000" />
<line x1="457" y1="379" x2="465" y2="379" stroke="#000" stroke-width="1.08" />
<line x1="462" y1="375" x2="462" y2="383" stroke="#000" stroke-width="1.08" />
<line x1="459.5" y1="377.2" x2="464.5" y2="377.2" stroke="#000" stroke-width="0.84" />
<rect x="440.00" y="405.80" width="20.80" height="55.20" rx="0" stroke="#000" stroke-width="1.20" fill="#fff" />
<circle cx="451.08" cy="412.83" r="0.5975522890945761" stroke="#000" stroke-width="0.00" fill="#000"/>
<circle cx="447.62" cy="445.00" r="0.671417536520642" stroke="#000" stroke-width="0.00" fill="#000"/>
<circle cx="451.65" cy="416.48" r="0.6582671217030271" stroke="#000" stroke-width="0.00" fill="#000"/>
<circle cx="452.86" cy="416.33" r="0.7559677002429442" stroke="#000" stroke-width="0.00" fill="#000"/>
<circle cx="453.32" cy="413.35" r="0.7727376328700225" stroke="#000" stroke-width="0.00" fill="#000"/>
<circle cx="443.66" cy="424.44" r="0.6881909479188586" stroke="#000" stroke-width="0.00" fill="#000"/>
<circle cx="452.23" cy="436.32" r="0.6589947229233472" stroke="#000" stroke-width="0.00" fill="#000"/>
<circle cx="449.60" cy="423.42" r="0.47055249126394727" stroke="#000" stroke-width="0.00" fill="#000"/>
<circle cx="442.29" cy="444.88" r="0.7017921762279575" stroke="#000" stroke-width="0.00" fill="#000"/>
<circle cx="451.21" cy="446.15" r="0.5436889383192499" stroke="#000" stroke-width="0.00" fill="#000"/>
<circle cx="446.00" cy="427.20" r="0.7490160737530107" stroke="#000" stroke-width="0.00" fill="#000"/>
<circle cx="441.79" cy="433.65" r="0.49887851683928375" stroke="#000" stroke-width="0.00" fill="#000"/>
<circle cx="455.46" cy="425.64" r="0.533145055011044" stroke="#000" stroke-width="0.00" fill="#000"/>
<circle cx="448.58" cy="435.61" r="0.7086841525710471" stroke="#000" stroke-width="0.00" fill="#000"/>
<circle cx="447.63" cy="451.85" r="0.4448523525940853" stroke="#000" stroke-width="0.00" fill="#000"/>
<circle cx="446.09" cy="412.10" r="0.445073910249348" stroke="#000" stroke-width="0.00" fill="#000"/>
<circle cx="455.64" cy="445.49" r="0.4739383718316957" stroke="#000" stroke-width="0.00" fill="#000"/>
<circle cx="444.56" cy="428.97" r="0.697326980206921" stroke="#000" stroke-width="0.00" fill="#000"/>
<circle cx="456.34" cy="446.63" r="0.6367665189739885" stroke="#000" stroke-width="0.00" fill="#000"/>
<circle cx="443.75" cy="428.00" r="0.47745537920212716" stroke="#000" stroke-width="0.00" fill="#000"/>
<circle cx="450.92" cy="437.04" r="0.480830692853238" stroke="#000" stroke-width="0.00" fill="#000"/>
<circle cx="445.70" cy="448.38" r="0.41203498197286476" stroke="#000" stroke-width="0.00" fill="#000"/>
<circle cx="456.10" cy="454.21" r="0.7797291183904159" stroke="#000" stroke-width="0.00" fill="#000"/>
<circle cx="448.20" cy="436.20" r="0.6332226762461812" stroke="#000" stroke-width="0.00" fill="#000"/>
<circle cx="452.91" cy="458.78" r="0.6746520540325127" stroke="#000" stroke-width="0.00" fill="#000"/>
<circle cx="446.63" cy="452.55" r="0.5936288685505804" stroke="#000" stroke-width="0.00" fill="#000"/>
<circle cx="452.31" cy="445.47" r="0.4009491566046558" stroke="#000" stroke-width="0.00" fill="#000"/>
<circle cx="455.48" cy="442.02" r="0.5967490171584722" stroke="#000" stroke-width="0.00" fill="#000"/>
<circle cx="450.84" cy="431.30" r="0.4773745679323432" stroke="#000" stroke-width="0.00" fill="#000"/>
<circle cx="450.96" cy="408.77" r="0.6001788166941642" stroke="#000" stroke-width="0.00" fill="#000"/>
<circle cx="453.14" cy="430.43" r="0.6264018186427744" stroke="#000" stroke-width="0.00" fill="#000"/>
<circle cx="459.03" cy="454.26" r="0.4542351140595682" stroke="#000" stroke-width="0.00" fill="#000"/>
<circle cx="455.90" cy="439.96" r="0.42024279542421433" stroke="#000" stroke-width="0.00" fill="#000"/>
<circle cx="447.77" cy="419.22" r="0.43113452642738287" stroke="#000" stroke-width="0.00" fill="#000"/>
<circle cx="451.13" cy="456.27" r="0.5292470077524998" stroke="#000" stroke-width="0.00" fill="#000"/>
<circle cx="457.37" cy="443.76" r="0.4537426682725989" stroke="#000" stroke-width="0.00" fill="#000"/>
<circle cx="457.14" cy="438.78" r="0.7707903028546701" stroke="#000" stroke-width="0.00" fill="#000"/>
<circle cx="454.46" cy="446.15" r="0.5374371468956952" stroke="#000" stroke-width="0.00" fill="#000"/>
<circle cx="456.17" cy="456.37" r="0.744583997726377" stroke="#000" stroke-width="0.00" fill="#000"/>
<circle cx="449.22" cy="447.06" r="0.5940007040375772" stroke="#000" stroke-width="0.00" fill="#000"/>
<circle cx="443.05" cy="409.07" r="0.43117692424432386" stroke="#000" stroke-width="0.00" fill="#000"/>
<circle cx="444.77" cy="415.36" r="0.5988560154237731" stroke="#000" stroke-width="0.00" fill="#000"/>
<circle cx="454.15" cy="435.39" r="0.5688444680225514" stroke="#000" stroke-width="0.00" fill="#000"/>
<circle cx="453.21" cy="423.01" r="0.5857621236371445" stroke="#000" stroke-width="0.00" fill="#000"/>
<circle cx="455.23" cy="428.16" r="0.4722356243591785" stroke="#000" stroke-width="0.00" fill="#000"/>
<circle cx="457.91" cy="445.09" r="0.5467731083893419" stroke="#000" stroke-width="0.00" fill="#000"/>
<circle cx="447.97" cy="434.96" r="0.6385896724516429" stroke="#000" stroke-width="0.00" fill="#000"/>
<circle cx="445.21" cy="406.94" r="0.48359802442393707" stroke="#000" stroke-width="0.00" fill="#000"/>
<circle cx="455.72" cy="414.43" r="0.5839950994665072" stroke="#000" stroke-width="0.00" fill="#000"/>
<circle cx="444.67" cy="417.93" r="0.468305565668728" stroke="#000" stroke-width="0.00" fill="#000"/>
<circle cx="448.59" cy="415.75" r="0.4109930549241866" stroke="#000" stroke-width="0.00" fill="#000"/>
<circle cx="443.07" cy="415.75" r="0.5961100583815607" stroke="#000" stroke-width="0.00" fill="#000"/>
<circle cx="442.12" cy="407.99" r="0.5792092064555182" stroke="#000" stroke-width="0.00" fill="#000"/>
<circle cx="448.67" cy="444.22" r="0.42044643831027145" stroke="#000" stroke-width="0.00" fill="#000"/>
<circle cx="448.58" cy="427.90" r="0.410665273395042" stroke="#000" stroke-width="0.00" fill="#000"/>
<circle cx="459.15" cy="418.45" r="0.4377083432349104" stroke="#000" stroke-width="0.00" fill="#000"/>
<circle cx="449.92" cy="415.57" r="0.6489806506519004" stroke="#000" stroke-width="0.00" fill="#000"/>
<circle cx="447.51" cy="413.39" r="0.4207564854844251" stroke="#000" stroke-width="0.00" fill="#000"/>
<circle cx="454.68" cy="421.43" r="0.7151357201993006" stroke="#000" stroke-width="0.00" fill="#000"/>
<circle cx="449.75" cy="456.43" r="0.5202192619102294" stroke="#000" stroke-width="0.00" fill="#000"/>
<circle cx="445.70" cy="420.94" r="0.7258677105216989" stroke="#000" stroke-width="0.00" fill="#000"/>
<circle cx="452.83" cy="425.14" r="0.4374863507053872" stroke="#000" stroke-width="0.00" fill="#000"/>
<circle cx="453.83" cy="458.37" r="0.6369030881453556" stroke="#000" stroke-width="0.00" fill="#000"/>
<circle cx="441.07" cy="408.41" r="0.43621377354584556" stroke="#000" stroke-width="0.00" fill="#000"/>
<circle cx="444.20" cy="408.75" r="0.4215774571570904" stroke="#000" stroke-width="0.00" fill="#000"/>
<circle cx="453.30" cy="454.70" r="0.4802754071350832" stroke="#000" stroke-width="0.00" fill="#000"/>
<circle cx="459.31" cy="432.17" r="0.7214354767758698" stroke="#000" stroke-width="0.00" fill="#000"/>
<circle cx="458.25" cy="456.81" r="0.4136847239205623" stroke="#000" stroke-width="0.00" fill="#000"/>
<circle cx="446.73" cy="439.09" r="0.7786157828401195" stroke="#000" stroke-width="0.00" fill="#000"/>
<circle cx="442.65" cy="422.41" r="0.7399622482450698" stroke="#000" stroke-width="0.00" fill="#000"/>
<circle cx="443.16" cy="427.54" r="0.5336728141800061" stroke="#000" stroke-width="0.00" fill="#000"/>
<circle cx="453.78" cy="456.20" r="0.4698523993416618" stroke="#000" stroke-width="0.00" fill="#000"/>
<circle cx="454.91" cy="445.85" r="0.7342629102994505" stroke="#000" stroke-width="0.00" fill="#000"/>
<circle cx="451.40" cy="455.93" r="0.5451301807215536" stroke="#000" stroke-width="0.00" fill="#000"/>
<circle cx="448.80" cy="419.00" r="0.7117860665999024" stroke="#000" stroke-width="0.00" fill="#000"/>
<circle cx="450.04" cy="421.14" r="0.4678972587199517" stroke="#000" stroke-width="0.00" fill="#000"/>
<circle cx="454.55" cy="439.02" r="0.6842507740763735" stroke="#000" stroke-width="0.00" fill="#000"/>
<circle cx="448.27" cy="432.71" r="0.4615557705511923" stroke="#000" stroke-width="0.00" fill="#000"/>
<circle cx="454.36" cy="408.02" r="0.5867712053418044" stroke="#000" stroke-width="0.00" fill="#000"/>
<circle cx="455.26" cy="442.83" r="0.43883496916319564" stroke="#000" stroke-width="0.00" fill="#000"/>
<circle cx="445.46" cy="451.68" r="0.6569519312871765" stroke="#000" stroke-width="0.00" fill="#000"/>
<circle cx="457.52" cy="453.20" r="0.5799617334200394" stroke="#000" stroke-width="0.00" fill="#000"/>
<circle cx="457.86" cy="445.79" r="0.5334846377281621" stroke="#000" stroke-width="0.00" fill="#000"/>
<circle cx="447.96" cy="410.63" r="0.5597332113590209" stroke="#000" stroke-width="0.00" fill="#000"/>
<circle cx="458.97" cy="412.39" r="0.6275578031281324" stroke="#000" stroke-width="0.00" fill="#000"/>
<circle cx="443.07" cy="411.10" r="0.6596555745911565" stroke="#000" stroke-width="0.00" fill="#000"/>
<circle cx="445.52" cy="409.40" r="0.46106922607257705" stroke="#000" stroke-width="0.00" fill="#000"/>
<circle cx="453.12" cy="437.95" r="0.4046630773309139" stroke="#000" stroke-width="0.00" fill="#000"/>
<circle cx="445.32" cy="458.26" r="0.4880326505027815" stroke="#000" stroke-width="0.00" fill="#000"/>
<circle cx="451.57" cy="429.12" r="0.7124592718696603" stroke="#000" stroke-width="0.00" fill="#000"/>
<circle cx="452.36" cy="448.76" r="0.6140879624550706" stroke="#000" stroke-width="0.00" fill="#000"/>
<circle cx="444.54" cy="416.25" r="0.4316512317696753" stroke="#000" stroke-width="0.00" fill="#000"/>
<circle cx="456.52" cy="412.79" r="0.4095978106823064" stroke="#000" stroke-width="0.00" fill="#000"/>
<circle cx="459.17" cy="417.40" r="0.7573135264367917" stroke="#000" stroke-width="0.00" fill="#000"/>
<circle cx="442.61" cy="431.55" r="0.489101051764072" stroke="#000" stroke-width="0.00" fill="#000"/>
<circle cx="456.59" cy="439.54" r="0.6567221805023657" stroke="#000" stroke-width="0.00" fill="#000"/>
<circle cx="455.31" cy="453.17" r="0.5384194386090634" stroke="#000" stroke-width="0.00" fill="#000"/>
<circle cx="452.34" cy="430.51" r="0.4443777808304621" stroke="#000" stroke-width="0.00" fill="#000"/>
<circle cx="456.71" cy="438.42" r="0.725920639572759" stroke="#000" stroke-width="0.00" fill="#000"/>
<circle cx="444.87" cy="435.48" r="0.5856696465590018" stroke="#000" stroke-width="0.00" fill="#000"/>
<circle cx="454.69" cy="410.91" r="0.5384597098587606" stroke="#000" stroke-width="0.00" fill="#000"/>
<circle cx="450.11" cy="410.61" r="0.621080984730561" stroke="#000" stroke-width="0.00" fill="#000"/>
<circle cx="454.82" cy="429.30" r="0.6593640567869076" stroke="#000" stroke-width="0.00" fill="#000"/>
<circle cx="452.39" cy="418.19" r="0.5402184421955551" stroke="#000" stroke-width="0.00" fill="#000"/>
<circle cx="459.72" cy="424.63" r="0.5723318679303157" stroke="#000" stroke-width="0.00" fill="#000"/>
<circle cx="442.58" cy="418.39" r="0.46611321791868265" stroke="#000" stroke-width="0.00" fill="#000"/>
<circle cx="458.50" cy="445.44" r="0.7498885121211296" stroke="#000" stroke-width="0.00" fill="#000"/>
<circle cx="459.55" cy="439.37" r="0.7725382170416749" stroke="#000" stroke-width="0.00" fill="#000"/>
<circle cx="451.07" cy="429.08" r="0.779221642587018" stroke="#000" stroke-width="0.00" fill="#000"/>
<circle cx="457.98" cy="457.32" r="0.5936762836388074" stroke="#000" stroke-width="0.00" fill="#000"/>
<circle cx="455.54" cy="428.45" r="0.7989207493888494" stroke="#000" stroke-width="0.00" fill="#000"/>
<circle cx="458.30" cy="422.34" r="0.773678150827047" stroke="#000" stroke-width="0.00" fill="#000"/>
<circle cx="444.47" cy="411.90" r="0.6889435176571775" stroke="#000" stroke-width="0.00" fill="#000"/>
<circle cx="446.53" cy="434.44" r="0.6557005002263108" stroke="#000" stroke-width="0.00" fill="#000"/>
<circle cx="441.76" cy="446.44" r="0.5103933229796715" stroke="#000" stroke-width="0.00" fill="#000"/>
<circle cx="449.13" cy="425.14" r="0.6968356227777535" stroke="#000" stroke-width="0.00" fill="#000"/>
<circle cx="455.04" cy="422.08" r="0.4413446618439809" stroke="#000" stroke-width="0.00" fill="#000"/>
<circle cx="446.63" cy="428.67" r="0.4310230529475439" stroke="#000" stroke-width="0.00" fill="#000"/>
<circle cx="443.88" cy="447.38" r="0.6801695921550519" stroke="#000" stroke-width="0.00" fill="#000"/>
<circle cx="459.36" cy="458.92" r="0.7504575182028252" stroke="#000" stroke-width="0.00" fill="#000"/>
<circle cx="448.00" cy="415.38" r="0.5247759698033658" stroke="#000" stroke-width="0.00" fill="#000"/>
<circle cx="449.71" cy="434.78" r="0.6168295717913312" stroke="#000" stroke-width="0.00" fill="#000"/>
<circle cx="447.76" cy="452.16" r="0.5140747458619275" stroke="#000" stroke-width="0.00" fill="#000"/>
<circle cx="449.71" cy="453.98" r="0.7228552068199942" stroke="#000" stroke-width="0.00" fill="#000"/>
<circle cx="446.59" cy="419.71" r="0.7226680681692597" stroke="#000" stroke-width="0.00" fill="#000"/>
<circle cx="441.19" cy="413.79" r="0.6123452846679486" stroke="#000" stroke-width="0.00" fill="#000"/>
<circle cx="451.07" cy="415.62" r="0.4201039105711459" stroke="#000" stroke-width="0.00" fill="#000"/>
<circle cx="444.83" cy="447.76" r="0.5862990866747338" stroke="#000" stroke-width="0.00" fill="#000"/>
<circle cx="459.41" cy="448.59" r="0.7916942821521751" stroke="#000" stroke-width="0.00" fill="#000"/>
<circle cx="441.66" cy="416.64" r="0.40527519070152085" stroke="#000" stroke-width="0.00" fill="#000"/>
<circle cx="449.13" cy="424.80" r="0.42050506652440656" stroke="#000" stroke-width="0.00" fill="#000"/>
<circle cx="451.27" cy="411.79" r="0.524646077340012" stroke="#000" stroke-width="0.00" fill="#000"/>
<circle cx="445.65" cy="449.47" r="0.5672874502029821" stroke="#000" stroke-width="0.00" fill="#000"/>
<circle cx="445.89" cy="409.14" r="0.5718252302328203" stroke="#000" stroke-width="0.00" fill="#000"/>
<circle cx="452.80" cy="442.72" r="0.7650209002535927" stroke="#000" stroke-width="0.00" fill="#000"/>
<circle cx="456.20" cy="419.96" r="0.4542661718835186" stroke="#000" stroke-width="0.00" fill="#000"/>
<circle cx="455.26" cy="448.80" r="0.603532075138615" stroke="#000" stroke-width="0.00" fill="#000"/>
<circle cx="456.62" cy="436.16" r="0.5118373424310039" stroke="#000" stroke-width="0.00" fill="#000"/>
<circle cx="444.17" cy="407.71" r="0.6572373034370704" stroke="#000" stroke-width="0.00" fill="#000"/>
<circle cx="457.86" cy="455.01" r="0.5869947747025968" stroke="#000" stroke-width="0.00" fill="#000"/>
<circle cx="453.51" cy="456.20" r="0.72560377710301" stroke="#000" stroke-width="0.00" fill="#000"/>
<circle cx="452.33" cy="428.85" r="0.6073638189797117" stroke="#000" stroke-width="0.00" fill="#000"/>
<circle cx="444.21" cy="416.53" r="0.6735152993785354" stroke="#000" stroke-width="0.00" fill="#000"/>
<circle cx="459.65" cy="435.90" r="0.5632582478945669" stroke="#000" stroke-width="0.00" fill="#000"/>
<circle cx="447.62" cy="431.00" r="0.7211784817444502" stroke="#000" stroke-width="0.00" fill="#000"/>
<circle cx="449.51" cy="457.83" r="0.46212195926076743" stroke="#000" stroke-width="0.00" fill="#000"/>
<circle cx="446.92" cy="434.57" r="0.5647505893873334" stroke="#000" stroke-width="0.00" fill="#000"/>
<circle cx="457.00" cy="450.83" r="0.7725303518340081" stroke="#000" stroke-width="0.00" fill="#000"/>
<circle cx="452.51" cy="408.43" r="0.6298034775189438" stroke="#000" stroke-width="0.00" fill="#000"/>
<circle cx="451.34" cy="432.74" r="0.5119397991464145" stroke="#000" stroke-width="0.00" fill="#000"/>
<circle cx="454.34" cy="455.30" r="0.4409829897737101" stroke="#000" stroke-width="0.00" fill="#000"/>
<circle cx="453.57" cy="426.55" r="0.6059171929568139" stroke="#000" stroke-width="0.00" fill="#000"/>
<circle cx="457.84" cy="457.89" r="0.6574216617579588" stroke="#000" stroke-width="0.00" fill="#000"/>
<circle cx="444.67" cy="455.78" r="0.4724517901357169" stroke="#000" stroke-width="0.00" fill="#000"/>
<circle cx="448.21" cy="450.86" r="0.5264784754791831" stroke="#000" stroke-width="0.00" fill="#000"/>
<circle cx="446.09" cy="457.34" r="0.7775215217970042" stroke="#000" stroke-width="0.00" fill="#000"/>
<circle cx="446.97" cy="427.68" r="0.5127790422306999" stroke="#000" stroke-width="0.00" fill="#000"/>
<circle cx="443.47" cy="420.11" r="0.7920684215407634" stroke="#000" stroke-width="0.00" fill="#000"/>
<circle cx="442.49" cy="419.02" r="0.4799978576227061" stroke="#000" stroke-width="0.00" fill="#000"/>
<circle cx="442.50" cy="434.80" r="0.6972076166638324" stroke="#000" stroke-width="0.00" fill="#000"/>
<circle cx="456.76" cy="440.38" r="0.7271235402840245" stroke="#000" stroke-width="0.00" fill="#000"/>
<circle cx="441.10" cy="421.81" r="0.7844681104780837" stroke="#000" stroke-width="0.00" fill="#000"/>
<circle cx="442.30" cy="421.04" r="0.5931371106558017" stroke="#000" stroke-width="0.00" fill="#000"/>
<circle cx="446.04" cy="435.85" r="0.418854842110443" stroke="#000" stroke-width="0.00" fill="#000"/>
<circle cx="445.44" cy="457.74" r="0.4576866988834216" stroke="#000" stroke-width="0.00" fill="#000"/>
<circle cx="458.02" cy="416.26" r="0.7971266194204532" stroke="#000" stroke-width="0.00" fill="#000"/>
<circle cx="453.68" cy="441.22" r="0.4568850379937583" stroke="#000" stroke-width="0.00" fill="#000"/>
<circle cx="442.03" cy="447.20" r="0.47046081814465296" stroke="#000" stroke-width="0.00" fill="#000"/>
<circle cx="444.56" cy="450.57" r="0.749927506288127" stroke="#000" stroke-width="0.00" fill="#000"/>
<circle cx="441.92" cy="457.91" r="0.6138866788574154" stroke="#000" stroke-width="0.00" fill="#000"/>
<ellipse cx="450.30" cy="431.30" rx="8.6" ry="11" stroke="#000" stroke-width="1.20" fill="#fff" />
<ellipse cx="450.30" cy="431.30" rx="7" ry="9.4" stroke="#000" stroke-width="0.84" fill="none" />
<line x1="442.5" y1="431.3" x2="448" y2="431.3" stroke="#000" stroke-width="0.96" />
<circle cx="444.00" cy="431.30" r="0.9" stroke="#000" stroke-width="0.00" fill="#000"/>
<path d="M461.00 460.30 L492.30 481.30 L492.30 504.40" stroke="#2a2a2a" stroke-width="2.76" fill="none" />
<line x1="440" y1="504.4" x2="452.5" y2="504.4" stroke="#000" stroke-width="1.20" />
<line x1="490" y1="504.4" x2="730" y2="504.4" stroke="#000" stroke-width="1.20" />
<line x1="452.5" y1="504.4" x2="490" y2="504.4" stroke="#000" stroke-width="0.96" />
<line x1="452.5" y1="507.5" x2="490" y2="507.5" stroke="#000" stroke-width="0.96" />
<line x1="452.5" y1="510.6" x2="490" y2="510.6" stroke="#000" stroke-width="0.96" />
<line x1="452.5" y1="504.4" x2="452.5" y2="513.75" stroke="#000" stroke-width="0.96" />
<line x1="490" y1="504.4" x2="490" y2="513.75" stroke="#000" stroke-width="0.96" />
<line x1="442.5" y1="479.5" x2="442.5" y2="486" stroke="#000" stroke-width="1.08" />
<line x1="440" y1="481" x2="447" y2="481" stroke="#000" stroke-width="0.84" />
<line x1="440" y1="484.5" x2="445" y2="484.5" stroke="#000" stroke-width="0.84" />
<circle cx="446.50" cy="482.50" r="1" stroke="#000" stroke-width="0.00" fill="#000"/>
<rect x="487.60" y="358.30" width="36.90" height="2.20" rx="0" stroke="#000" stroke-width="0.96" fill="#fff" />
<line x1="488" y1="362.2" x2="495" y2="362.2" stroke="#000" stroke-width="1.44" />
<path d="M487.6 360 A37.5 37.5 0 0 0 524.5 398" stroke="#000" stroke-width="1.08" fill="none" />
<line x1="524.5" y1="360.5" x2="524.5" y2="398" stroke="#000" stroke-width="0.96" />
<path d="M521.60 504.40 L521.60 398.00 L529.50 398.00 L529.50 504.40" stroke="#000" stroke-width="1.20" fill="none" />
<path d="M513 436 Q490 436 490.6 445.3 Q490 454.5 513 454.5 Z" stroke="#000" stroke-width="1.20" fill="#fff" />
<path d="M511 438 Q494 438.5 493.5 445.3 Q494 452 511 452.5" stroke="#000" stroke-width="0.84" fill="none" />
<rect x="512.60" y="434.80" width="8.10" height="20.90" rx="1.5" stroke="#000" stroke-width="1.20" fill="#fff" />
<line x1="515.5" y1="436.5" x2="515.5" y2="454" stroke="#000" stroke-width="0.84" />
<rect x="496.50" y="478.50" width="24.90" height="25.90" rx="0" stroke="#000" stroke-width="1.20" fill="none" />
<rect x="498.70" y="481.00" width="20.80" height="12.50" rx="0" stroke="#000" stroke-width="0.96" fill="none" />
<line x1="496.5" y1="494.5" x2="521.4" y2="494.5" stroke="#000" stroke-width="0.96" />
<path d="M513.5 497 l2 1.4 l-.8 2.3 h-2.4 l-.8 -2.3 Z" stroke="#000" stroke-width="0.84" fill="none" />
<text x="477.60" y="415.19" font-size="6.96" font-weight="bold" textLength="22.50" lengthAdjust="spacingAndGlyphs" stroke="#000" stroke-width="0.3">主卫生间</text>
<text x="479.70" y="422.04" font-size="6.01" font-weight="bold" textLength="16.10" lengthAdjust="spacingAndGlyphs" stroke="#000" stroke-width="0.55">TOILET</text>
<path d="M730.50 348.70 L572.50 348.70 L572.50 356.30 L730.50 356.30" stroke="#000" stroke-width="1.20" fill="none" />
<rect x="532.60" y="352.00" width="2.40" height="38.00" rx="0" stroke="#000" stroke-width="0.96" fill="#fff" />
<path d="M535 390 A38 38 0 0 0 573 352" stroke="#000" stroke-width="1.08" fill="none" />
<line x1="531.5" y1="386" x2="531.5" y2="391" stroke="#000" stroke-width="1.44" />
<line x1="529.5" y1="352" x2="529.5" y2="398" stroke="#000" stroke-width="0.96" />
<rect x="602.00" y="356.30" width="93.00" height="18.20" rx="0" stroke="#000" stroke-width="1.20" fill="none" />
<path d="M631.8 360.5 H665.8 Q668.8 360.5 668.8 362.975 L664.8 366 H632.8 L628.8 362.975 Q628.8 360.5 631.8 360.5 Z" stroke="#000" stroke-width="1.08" fill="#fff" />
<rect x="629.80" y="360.50" width="38.00" height="2.09" rx="1" stroke="#000" stroke-width="0.00" fill="#000" />
<line x1="648.8" y1="365" x2="643.8" y2="371" stroke="#000" stroke-width="0.96" />
<line x1="648.8" y1="365" x2="653.8" y2="371" stroke="#000" stroke-width="0.96" />
<rect x="530.50" y="398.00" width="21.50" height="105.80" rx="0" stroke="#000" stroke-width="1.44" fill="none" />
<line x1="541.2" y1="398" x2="541.2" y2="503.8" stroke="#000" stroke-width="1.56" />
<line x1="530.5" y1="462" x2="552" y2="462" stroke="#000" stroke-width="1.44" />
<line x1="555" y1="398" x2="555" y2="503.8" stroke="#000" stroke-width="1.08" />
<line x1="532.2" y1="406.68333333333334" x2="550.2" y2="403.4833333333333" stroke="#000" stroke-width="1.32" />
<ellipse cx="535.20" cy="406.38" rx="2.3" ry="1.2" stroke="#000" stroke-width="0.96" fill="none" />
<ellipse cx="547.20" cy="403.78" rx="2.3" ry="1.2" stroke="#000" stroke-width="0.96" fill="none" />
<line x1="532.2" y1="416.85" x2="550.2" y2="413.65" stroke="#000" stroke-width="1.32" />
<ellipse cx="535.20" cy="416.55" rx="2.3" ry="1.2" stroke="#000" stroke-width="0.96" fill="none" />
<ellipse cx="547.20" cy="413.95" rx="2.3" ry="1.2" stroke="#000" stroke-width="0.96" fill="none" />
<line x1="532.2" y1="427.0166666666667" x2="550.2" y2="423.81666666666666" stroke="#000" stroke-width="1.32" />
<ellipse cx="535.20" cy="426.72" rx="2.3" ry="1.2" stroke="#000" stroke-width="0.96" fill="none" />
<ellipse cx="547.20" cy="424.12" rx="2.3" ry="1.2" stroke="#000" stroke-width="0.96" fill="none" />
<line x1="532.2" y1="437.18333333333334" x2="550.2" y2="433.9833333333333" stroke="#000" stroke-width="1.32" />
<ellipse cx="535.20" cy="436.88" rx="2.3" ry="1.2" stroke="#000" stroke-width="0.96" fill="none" />
<ellipse cx="547.20" cy="434.28" rx="2.3" ry="1.2" stroke="#000" stroke-width="0.96" fill="none" />
<line x1="532.2" y1="447.35" x2="550.2" y2="444.15" stroke="#000" stroke-width="1.32" />
<ellipse cx="535.20" cy="447.05" rx="2.3" ry="1.2" stroke="#000" stroke-width="0.96" fill="none" />
<ellipse cx="547.20" cy="444.45" rx="2.3" ry="1.2" stroke="#000" stroke-width="0.96" fill="none" />
<line x1="532.2" y1="457.5166666666667" x2="550.2" y2="454.31666666666666" stroke="#000" stroke-width="1.32" />
<ellipse cx="535.20" cy="457.22" rx="2.3" ry="1.2" stroke="#000" stroke-width="0.96" fill="none" />
<ellipse cx="547.20" cy="454.62" rx="2.3" ry="1.2" stroke="#000" stroke-width="0.96" fill="none" />
<line x1="532.2" y1="468.6" x2="550.2" y2="465.4" stroke="#000" stroke-width="1.32" />
<ellipse cx="535.20" cy="468.30" rx="2.3" ry="1.2" stroke="#000" stroke-width="0.96" fill="none" />
<ellipse cx="547.20" cy="465.70" rx="2.3" ry="1.2" stroke="#000" stroke-width="0.96" fill="none" />
<line x1="532.2" y1="476.6" x2="550.2" y2="473.4" stroke="#000" stroke-width="1.32" />
<ellipse cx="535.20" cy="476.30" rx="2.3" ry="1.2" stroke="#000" stroke-width="0.96" fill="none" />
<ellipse cx="547.20" cy="473.70" rx="2.3" ry="1.2" stroke="#000" stroke-width="0.96" fill="none" />
<line x1="532.2" y1="484.6" x2="550.2" y2="481.4" stroke="#000" stroke-width="1.32" />
<ellipse cx="535.20" cy="484.30" rx="2.3" ry="1.2" stroke="#000" stroke-width="0.96" fill="none" />
<ellipse cx="547.20" cy="481.70" rx="2.3" ry="1.2" stroke="#000" stroke-width="0.96" fill="none" />
<line x1="532.2" y1="492.6" x2="550.2" y2="489.4" stroke="#000" stroke-width="1.32" />
<ellipse cx="535.20" cy="492.30" rx="2.3" ry="1.2" stroke="#000" stroke-width="0.96" fill="none" />
<ellipse cx="547.20" cy="489.70" rx="2.3" ry="1.2" stroke="#000" stroke-width="0.96" fill="none" />
<line x1="532.2" y1="500.6" x2="550.2" y2="497.4" stroke="#000" stroke-width="1.32" />
<ellipse cx="535.20" cy="500.30" rx="2.3" ry="1.2" stroke="#000" stroke-width="0.96" fill="none" />
<ellipse cx="547.20" cy="497.70" rx="2.3" ry="1.2" stroke="#000" stroke-width="0.96" fill="none" />
<path d="M555.00 399.00 L563.00 421.04 L556.00 430.00 L563.00 437.68 L555.00 461.00" stroke="#000" stroke-width="1.08" fill="none" />
<path d="M555.00 463.00 L563.00 477.05 L556.00 482.90 L563.00 487.92 L555.00 502.80" stroke="#000" stroke-width="1.08" fill="none" />
<rect x="602.00" y="408.30" width="87.00" height="95.50" rx="0" stroke="#000" stroke-width="1.20" fill="none" />
<rect x="603.80" y="410.20" width="83.20" height="91.80" rx="0" stroke="#000" stroke-width="0.72" fill="none" />
<rect x="582.00" y="485.50" width="19.60" height="18.30" rx="0" stroke="#000" stroke-width="1.20" fill="none" />
<rect x="584.00" y="487.50" width="15.60" height="14.30" rx="0" stroke="#000" stroke-width="0.96" fill="none" />
<circle cx="591.80" cy="494.65" r="3.6" stroke="#000" stroke-width="1.08" fill="none"/>
<circle cx="591.80" cy="494.65" r="3.0" stroke="#000" stroke-width="0.00" fill="#000"/>
<line x1="586.5999999999999" y1="494.65" x2="597.0" y2="494.65" stroke="#000" stroke-width="1.32" />
<line x1="591.8" y1="489.45" x2="591.8" y2="499.84999999999997" stroke="#000" stroke-width="1.32" />
<rect x="689.70" y="485.50" width="19.00" height="18.30" rx="0" stroke="#000" stroke-width="1.20" fill="none" />
<rect x="691.70" y="487.50" width="15.00" height="14.30" rx="0" stroke="#000" stroke-width="0.96" fill="none" />
<circle cx="699.20" cy="494.65" r="3.6" stroke="#000" stroke-width="1.08" fill="none"/>
<circle cx="699.20" cy="494.65" r="3.0" stroke="#000" stroke-width="0.00" fill="#000"/>
<line x1="694.0" y1="494.65" x2="704.4000000000001" y2="494.65" stroke="#000" stroke-width="1.32" />
<line x1="699.2" y1="489.45" x2="699.2" y2="499.84999999999997" stroke="#000" stroke-width="1.32" />
<path d="M611.3 481 Q625.05 484 638.8 481 Q635.8 489.75 638.8 498.5 Q625.05 496.5 611.3 498.5 Q614.3 489.75 611.3 481Z" stroke="#000" stroke-width="1.20" fill="none" />
<path d="M612.8 483 L615.3 495.5 M637.3 483 L634.8 495.5" stroke="#000" stroke-width="0.72" fill="none" />
<path d="M652.5 481 Q666.9 484 681.3 481 Q678.3 489.75 681.3 498.5 Q666.9 496.5 652.5 498.5 Q655.5 489.75 652.5 481Z" stroke="#000" stroke-width="1.20" fill="none" />
<path d="M654.0 483 L656.5 495.5 M679.8 483 L677.3 495.5" stroke="#000" stroke-width="0.72" fill="none" />
<path d="M603.8 466 Q625 470 650 467 T687 468" stroke="#000" stroke-width="1.08" fill="none" />
<path d="M603.8 479.5 Q650 483 687 478" stroke="#000" stroke-width="1.08" fill="none" />
<path d="M612 430 L632 440 M620 444 L655 440 M632 441 L640 440 M668 432 L683 420 M611 464 L624 456 M616 466 L630 457 M640 456 L672 468 M672 468 L687 474" stroke="#000" stroke-width="1.08" fill="none" />
<text x="663.00" y="451.49" font-size="8.94" font-weight="bold" textLength="21.60" lengthAdjust="spacingAndGlyphs" stroke="#000" stroke-width="1.1">Small</text>
<text x="590.50" y="398.67" font-size="7.61" font-weight="bold" textLength="18.60" lengthAdjust="spacingAndGlyphs" stroke="#000" stroke-width="0.3">主卧室</text>
<text x="582.40" y="405.64" font-size="6.01" font-weight="bold" textLength="36.50" lengthAdjust="spacingAndGlyphs" stroke="#000" stroke-width="0.55">MASTER BED ROOM</text>
<line x1="708.8" y1="370" x2="715.4461652722481" y2="369.84363382715026" stroke="#000" stroke-width="1.56" />
<line x1="708.8" y1="370" x2="717.4795308400381" y2="371.93757637360557" stroke="#000" stroke-width="1.56" />
<line x1="708.8" y1="370" x2="714.8722453001769" y2="372.85480491299296" stroke="#000" stroke-width="1.56" />
<line x1="708.8" y1="370" x2="714.1162630440664" y2="374.0753861284256" stroke="#000" stroke-width="1.56" />
<line x1="708.8" y1="370" x2="713.9561458720698" y2="377.0175624020527" stroke="#000" stroke-width="1.56" />
<line x1="708.8" y1="370" x2="711.7678939106013" y2="376.18979464447824" stroke="#000" stroke-width="1.56" />
<line x1="708.8" y1="370" x2="709.0939330311752" y2="378.91224641490476" stroke="#000" stroke-width="1.56" />
<line x1="708.8" y1="370" x2="707.2936907355943" y2="376.838227064151" stroke="#000" stroke-width="1.56" />
<line x1="708.8" y1="370" x2="705.9205361000804" y2="378.31518368888504" stroke="#000" stroke-width="1.56" />
<line x1="708.8" y1="370" x2="704.1797359333697" y2="376.73652861372136" stroke="#000" stroke-width="1.56" />
<line x1="708.8" y1="370" x2="704.1500493306764" y2="374.4402071214023" stroke="#000" stroke-width="1.56" />
<line x1="708.8" y1="370" x2="701.5884303348391" y2="374.0741682065867" stroke="#000" stroke-width="1.56" />
<line x1="708.8" y1="370" x2="701.1083117913524" y2="371.4415997700437" stroke="#000" stroke-width="1.56" />
<line x1="708.8" y1="370" x2="701.052965330442" y2="370.05567398353463" stroke="#000" stroke-width="1.56" />
<line x1="708.8" y1="370" x2="701.26616182406" y2="368.2350606853048" stroke="#000" stroke-width="1.56" />
<line x1="708.8" y1="370" x2="702.9290774401597" y2="366.40117550158965" stroke="#000" stroke-width="1.56" />
<line x1="708.8" y1="370" x2="702.3584705954887" y2="364.0727283413356" stroke="#000" stroke-width="1.56" />
<line x1="708.8" y1="370" x2="705.3194877953014" y2="364.1203173147738" stroke="#000" stroke-width="1.56" />
<line x1="708.8" y1="370" x2="706.5298497820614" y2="361.7910075327859" stroke="#000" stroke-width="1.56" />
<line x1="708.8" y1="370" x2="707.4870475759577" y2="363.070260107498" stroke="#000" stroke-width="1.56" />
<line x1="708.8" y1="370" x2="709.1988453457394" y2="363.50191548590425" stroke="#000" stroke-width="1.56" />
<line x1="708.8" y1="370" x2="712.0813172126664" y2="363.3464311424886" stroke="#000" stroke-width="1.56" />
<line x1="708.8" y1="370" x2="712.9854565965358" y2="364.8103136262779" stroke="#000" stroke-width="1.56" />
<line x1="708.8" y1="370" x2="714.6484576794676" y2="363.70443890949923" stroke="#000" stroke-width="1.56" />
<line x1="708.8" y1="370" x2="716.9131738609872" y2="366.33280189164293" stroke="#000" stroke-width="1.56" />
<line x1="708.8" y1="370" x2="716.3534912960467" y2="368.43288708587625" stroke="#000" stroke-width="1.56" />
<circle cx="708.80" cy="370.00" r="4.675000000000001" stroke="#000" stroke-width="0.00" fill="#000"/>
<path d="M729.50 312.50 L724.80 314.80 L729.50 317.10 L724.80 319.40 L729.50 321.70 L724.80 324.00 L729.50 326.30 L724.80 328.60 L729.50 330.90 L724.80 333.20 L729.50 335.50 L724.80 337.80 L729.50 340.10 L724.80 342.40 L729.50 344.70" stroke="#000" stroke-width="0.96" fill="none" />
<path d="M729.50 359.00 L724.80 361.30 L729.50 363.60 L724.80 365.90 L729.50 368.20 L724.80 370.50 L729.50 372.80 L724.80 375.10 L729.50 377.40 L724.80 379.70 L729.50 382.00 L724.80 384.30 L729.50 386.60" stroke="#000" stroke-width="0.96" fill="none" />
<path d="M729.50 478.00 L724.80 480.30 L729.50 482.60 L724.80 484.90 L729.50 487.20 L724.80 489.50 L729.50 491.80 L724.80 494.10 L729.50 496.40 L724.80 498.70 L729.50 501.00" stroke="#000" stroke-width="0.96" fill="none" />
<path d="M728 387 q2 4 -1 8" stroke="#000" stroke-width="0.96" fill="none" />
<path d="M730.50 348.70 L730.50 307.00 L738.75 307.00 L738.75 393.75 L730.50 393.75 L730.50 356.30" stroke="#000" stroke-width="1.20" fill="none" />
<path d="M730.50 504.40 L730.50 471.30 L738.75 471.30 L738.75 513.75" stroke="#000" stroke-width="1.20" fill="none" />
<path d="M728.5 468 L730.5 471.3" stroke="#000" stroke-width="1.20" fill="none" />
<line x1="730.5" y1="190" x2="730.5" y2="307" stroke="#000" stroke-width="0.84" stroke-dasharray="8 2"/>
<line x1="738.2" y1="190" x2="738.2" y2="307" stroke="#000" stroke-width="0.84" stroke-dasharray="8 2 2 2"/>
<path d="M738.75 168.75 H812 V513.75 H738.75 V508.75 H806.25 V172.5 H738.75 Z" stroke="#000" stroke-width="1.20" fill="#666" />
<line x1="738.75" y1="344.5" x2="806.25" y2="344.5" stroke="#000" stroke-width="1.20" />
<line x1="738.75" y1="348.75" x2="806.25" y2="348.75" stroke="#000" stroke-width="1.20" />
<line x1="738.75" y1="375.5" x2="806.25" y2="375.5" stroke="#000" stroke-width="1.20" />
<line x1="738.75" y1="373.8" x2="806.25" y2="373.8" stroke="#000" stroke-width="0.84" />
<line x1="738.75" y1="348.75" x2="806.25" y2="375.5" stroke="#000" stroke-width="0.96" />
<line x1="738.75" y1="375.5" x2="806.25" y2="348.75" stroke="#000" stroke-width="0.96" />
<rect x="738.75" y="334.50" width="10.75" height="10.00" rx="0" stroke="#000" stroke-width="1.08" fill="none" />
<circle cx="744.00" cy="339.70" r="1.8" stroke="#000" stroke-width="0.96" fill="none"/>
<rect x="738.75" y="497.50" width="10.75" height="11.25" rx="0" stroke="#000" stroke-width="1.08" fill="none" />
<circle cx="744.00" cy="503.30" r="1.8" stroke="#000" stroke-width="0.96" fill="none"/>
<text x="766.00" y="299.90" font-size="6.74" font-weight="bold" textLength="11.50" lengthAdjust="spacingAndGlyphs" stroke="#000" stroke-width="0.3">阳台</text>
<text x="762.50" y="306.09" font-size="5.87" font-weight="bold" textLength="16.30" lengthAdjust="spacingAndGlyphs" stroke="#000" stroke-width="0.55">Balcony</text>
<text x="762.50" y="362.10" font-size="6.74" font-weight="bold" textLength="17.50" lengthAdjust="spacingAndGlyphs" stroke="#000" stroke-width="0.3">阳台柜</text>
<text x="771.00" y="419.90" font-size="6.74" font-weight="bold" textLength="11.50" lengthAdjust="spacingAndGlyphs" stroke="#000" stroke-width="0.3">阳台</text>
<text x="768.80" y="425.79" font-size="5.87" font-weight="bold" textLength="16.20" lengthAdjust="spacingAndGlyphs" stroke="#000" stroke-width="0.55">Balcony</text>
<g transform="translate(775,466) rotate(22)">
<rect x="-10.50" y="-29.00" width="21.00" height="15.00" rx="5" stroke="#000" stroke-width="0.96" fill="#fff" />
<path d="M-11 -15 L11 -15 L10.5 21 L-10.5 21 Z" stroke="#000" stroke-width="0.96" fill="#fff" />
<line x1="-11" y1="3" x2="11" y2="3" stroke="#000" stroke-width="0.96" />
<path d="M-12 -13 Q-19 2 -14 14 L-11 3 Z" stroke="#000" stroke-width="0.96" fill="#fff" />
<path d="M12 -13 Q19 2 14 14 L11 3 Z" stroke="#000" stroke-width="0.96" fill="#fff" />
<path d="M-13 21 Q0 31 13 23 Q0 25 -13 21Z" stroke="#000" stroke-width="0.96" fill="#fff" />
</g>
<path d="M429.40 81.80 L429.40 45.80 L520.75 45.80 L520.75 12.00 L738.75 12.00 L738.75 42.50" stroke="#000" stroke-width="1.20" fill="none" />
<path d="M529.50 121.00 L529.50 21.30 L730.00 21.30 L730.00 42.50" stroke="#000" stroke-width="1.20" fill="none" />
<path d="M738.75 33.80 L765.00 33.80 L765.00 129.50 L738.75 129.50" stroke="#000" stroke-width="0.84" fill="none" />
<path d="M738.75 36.20 L762.50 36.20 L762.50 127.00 L738.75 127.00" stroke="#000" stroke-width="0.84" fill="none" />
<path d="M738.75 38.60 L760.00 38.60 L760.00 124.60 L738.75 124.60" stroke="#000" stroke-width="0.84" fill="none" />
<path d="M738.75 41.00 L757.50 41.00 L757.50 122.20 L738.75 122.20" stroke="#000" stroke-width="0.84" fill="none" />
<rect x="730.60" y="42.80" width="25.40" height="77.20" rx="0" stroke="#000" stroke-width="1.20" fill="none" />
<line x1="730" y1="42.5" x2="738.75" y2="42.5" stroke="#000" stroke-width="1.20" />
<line x1="730" y1="120" x2="738.75" y2="120" stroke="#000" stroke-width="1.20" />
<line x1="729" y1="44" x2="729" y2="52" stroke="#000" stroke-width="1.92" />
<line x1="729" y1="120" x2="729" y2="128" stroke="#000" stroke-width="1.92" />
<g transform="translate(744.5,67) rotate(-28)">
<rect x="-8.50" y="-6.00" width="17.00" height="12.00" rx="0" stroke="#000" stroke-width="1.20" fill="none" />
<line x1="-8.5" y1="-4.3" x2="8.5" y2="-4.3" stroke="#000" stroke-width="0.84" />
<line x1="4" y1="-6" x2="-2" y2="6" stroke="#000" stroke-width="0.84" />
</g>
<g transform="translate(742,88.5) rotate(8)">
<rect x="-6.00" y="-8.50" width="12.00" height="17.00" rx="0" stroke="#000" stroke-width="1.20" fill="none" />
<path d="M-5 -7 L4 -8 L7 0 L3 8 L-6 6 Z" stroke="#000" stroke-width="0.96" fill="none" />
</g>
<path d="M738.75 120.00 L738.75 190.00 L730.50 190.00" stroke="#000" stroke-width="1.20" fill="none" />
<line x1="730.5" y1="120" x2="730.5" y2="155.7" stroke="#000" stroke-width="1.20" />
<line x1="730.5" y1="163.6" x2="730.5" y2="190" stroke="#000" stroke-width="1.20" />
<line x1="535" y1="155.7" x2="730.5" y2="155.7" stroke="#000" stroke-width="1.20" />
<line x1="535" y1="163.6" x2="730.5" y2="163.6" stroke="#000" stroke-width="1.20" />
<path d="M728.80 22.80 L724.30 25.10 L728.80 27.40 L724.30 29.70 L728.80 32.00 L724.30 34.30 L728.80 36.60 L724.30 38.90" stroke="#000" stroke-width="0.96" fill="none" />
<path d="M728.80 130.00 L724.30 132.30 L728.80 134.60 L724.30 136.90 L728.80 139.20 L724.30 141.50 L728.80 143.80 L724.30 146.10 L728.80 148.40 L724.30 150.70 L728.80 153.00" stroke="#000" stroke-width="0.96" fill="none" />
<path d="M728.80 166.30 L724.30 168.60 L728.80 170.90 L724.30 173.20 L728.80 175.50 L724.30 177.80 L728.80 180.10 L724.30 182.40" stroke="#000" stroke-width="0.96" fill="none" />
<line x1="729" y1="184" x2="729.8" y2="192" stroke="#000" stroke-width="1.08" />
<rect x="530.50" y="21.30" width="20.80" height="86.20" rx="0" stroke="#000" stroke-width="1.44" fill="none" />
<line x1="540.5" y1="21.3" x2="540.5" y2="107.5" stroke="#000" stroke-width="1.56" />
<line x1="530.5" y1="63.8" x2="551.3" y2="63.8" stroke="#000" stroke-width="1.44" />
<line x1="555" y1="21.3" x2="555" y2="107.5" stroke="#000" stroke-width="1.08" />
<line x1="551.3" y1="107.5" x2="555" y2="107.5" stroke="#000" stroke-width="1.08" />
<line x1="531.5" y1="28.6" x2="549.5" y2="25.4" stroke="#000" stroke-width="1.32" />
<ellipse cx="534.50" cy="28.30" rx="2.3" ry="1.2" stroke="#000" stroke-width="0.96" fill="none" />
<ellipse cx="546.50" cy="25.70" rx="2.3" ry="1.2" stroke="#000" stroke-width="0.96" fill="none" />
<line x1="531.5" y1="36.6" x2="549.5" y2="33.4" stroke="#000" stroke-width="1.32" />
<ellipse cx="534.50" cy="36.30" rx="2.3" ry="1.2" stroke="#000" stroke-width="0.96" fill="none" />
<ellipse cx="546.50" cy="33.70" rx="2.3" ry="1.2" stroke="#000" stroke-width="0.96" fill="none" />
<line x1="531.5" y1="44.6" x2="549.5" y2="41.4" stroke="#000" stroke-width="1.32" />
<ellipse cx="534.50" cy="44.30" rx="2.3" ry="1.2" stroke="#000" stroke-width="0.96" fill="none" />
<ellipse cx="546.50" cy="41.70" rx="2.3" ry="1.2" stroke="#000" stroke-width="0.96" fill="none" />
<line x1="531.5" y1="52.6" x2="549.5" y2="49.4" stroke="#000" stroke-width="1.32" />
<ellipse cx="534.50" cy="52.30" rx="2.3" ry="1.2" stroke="#000" stroke-width="0.96" fill="none" />
<ellipse cx="546.50" cy="49.70" rx="2.3" ry="1.2" stroke="#000" stroke-width="0.96" fill="none" />
<line x1="531.5" y1="60.6" x2="549.5" y2="57.4" stroke="#000" stroke-width="1.32" />
<ellipse cx="534.50" cy="60.30" rx="2.3" ry="1.2" stroke="#000" stroke-width="0.96" fill="none" />
<ellipse cx="546.50" cy="57.70" rx="2.3" ry="1.2" stroke="#000" stroke-width="0.96" fill="none" />
<line x1="531.5" y1="70.8" x2="549.5" y2="67.60000000000001" stroke="#000" stroke-width="1.32" />
<ellipse cx="534.50" cy="70.50" rx="2.3" ry="1.2" stroke="#000" stroke-width="0.96" fill="none" />
<ellipse cx="546.50" cy="67.90" rx="2.3" ry="1.2" stroke="#000" stroke-width="0.96" fill="none" />
<line x1="531.5" y1="79.19999999999999" x2="549.5" y2="76.0" stroke="#000" stroke-width="1.32" />
<ellipse cx="534.50" cy="78.90" rx="2.3" ry="1.2" stroke="#000" stroke-width="0.96" fill="none" />
<ellipse cx="546.50" cy="76.30" rx="2.3" ry="1.2" stroke="#000" stroke-width="0.96" fill="none" />
<line x1="531.5" y1="87.6" x2="549.5" y2="84.4" stroke="#000" stroke-width="1.32" />
<ellipse cx="534.50" cy="87.30" rx="2.3" ry="1.2" stroke="#000" stroke-width="0.96" fill="none" />
<ellipse cx="546.50" cy="84.70" rx="2.3" ry="1.2" stroke="#000" stroke-width="0.96" fill="none" />
<line x1="531.5" y1="96.0" x2="549.5" y2="92.80000000000001" stroke="#000" stroke-width="1.32" />
<ellipse cx="534.50" cy="95.70" rx="2.3" ry="1.2" stroke="#000" stroke-width="0.96" fill="none" />
<ellipse cx="546.50" cy="93.10" rx="2.3" ry="1.2" stroke="#000" stroke-width="0.96" fill="none" />
<line x1="531.5" y1="104.4" x2="549.5" y2="101.20000000000002" stroke="#000" stroke-width="1.32" />
<ellipse cx="534.50" cy="104.10" rx="2.3" ry="1.2" stroke="#000" stroke-width="0.96" fill="none" />
<ellipse cx="546.50" cy="101.50" rx="2.3" ry="1.2" stroke="#000" stroke-width="0.96" fill="none" />
<path d="M555.00 22.30 L563.00 36.60 L556.00 44.25 L563.00 49.35 L555.00 62.80" stroke="#000" stroke-width="1.08" fill="none" />
<path d="M555.00 64.80 L563.00 79.53 L556.00 87.40 L563.00 92.64 L555.00 106.50" stroke="#000" stroke-width="1.08" fill="none" />
<rect x="591.30" y="22.00" width="18.70" height="18.00" rx="0" stroke="#000" stroke-width="1.20" fill="none" />
<rect x="593.30" y="24.00" width="14.70" height="14.00" rx="0" stroke="#000" stroke-width="0.96" fill="none" />
<circle cx="600.65" cy="31.00" r="3.6" stroke="#000" stroke-width="1.08" fill="none"/>
<circle cx="600.65" cy="31.00" r="3.0" stroke="#000" stroke-width="0.00" fill="#000"/>
<line x1="595.4499999999999" y1="31.0" x2="605.85" y2="31.0" stroke="#000" stroke-width="1.32" />
<line x1="600.65" y1="25.8" x2="600.65" y2="36.2" stroke="#000" stroke-width="1.32" />
<rect x="689.70" y="22.00" width="19.00" height="18.00" rx="0" stroke="#000" stroke-width="1.20" fill="none" />
<rect x="691.70" y="24.00" width="15.00" height="14.00" rx="0" stroke="#000" stroke-width="0.96" fill="none" />
<circle cx="699.20" cy="31.00" r="3.6" stroke="#000" stroke-width="1.08" fill="none"/>
<circle cx="699.20" cy="31.00" r="3.0" stroke="#000" stroke-width="0.00" fill="#000"/>
<line x1="694.0" y1="31.0" x2="704.4000000000001" y2="31.0" stroke="#000" stroke-width="1.32" />
<line x1="699.2" y1="25.8" x2="699.2" y2="36.2" stroke="#000" stroke-width="1.32" />
<rect x="610.00" y="22.00" width="79.00" height="86.00" rx="0" stroke="#000" stroke-width="1.20" fill="none" />
<rect x="611.80" y="23.80" width="75.40" height="82.40" rx="0" stroke="#000" stroke-width="0.72" fill="none" />
<path d="M620 27 Q631.25 30 642.5 27 Q639.5 34.0 642.5 41 Q631.25 39 620 41 Q623 34.0 620 27Z" stroke="#000" stroke-width="1.20" fill="none" />
<path d="M621.5 29 L624 38 M641.0 29 L638.5 38" stroke="#000" stroke-width="0.72" fill="none" />
<path d="M656 27 Q668.0 30 680 27 Q677 34.0 680 41 Q668.0 39 656 41 Q659 34.0 656 27Z" stroke="#000" stroke-width="1.20" fill="none" />
<path d="M657.5 29 L660 38 M678.5 29 L676 38" stroke="#000" stroke-width="0.72" fill="none" />
<path d="M611.8 47.5 L625 41.5 L640 43.5 H687.2" stroke="#000" stroke-width="1.08" fill="none" />
<path d="M611.8 57.5 Q640 56 665 58.5 T687.2 59" stroke="#000" stroke-width="1.08" fill="none" />
<path d="M620 58 L655 69 M665 67 L680 58 M670 68 L684 59 M640 84 L675 82 M655 84 L662 83 M662 85 L684 95 M613 103 L630 95 M618 104 L632 97" stroke="#000" stroke-width="1.08" fill="none" />
<text x="616.40" y="82.54" font-size="6.01" font-weight="bold" textLength="21.50" lengthAdjust="spacingAndGlyphs" stroke="#000" stroke-width="0.5">2000×1800</text>
<text x="587.30" y="121.90" font-size="6.74" font-weight="bold" textLength="18.60" lengthAdjust="spacingAndGlyphs" stroke="#000" stroke-width="0.3">次卧室</text>
<text x="587.30" y="128.94" font-size="6.01" font-weight="bold" textLength="19.20" lengthAdjust="spacingAndGlyphs" stroke="#000" stroke-width="0.55">BED ROOM</text>
<rect x="610.00" y="138.50" width="78.80" height="17.20" rx="0" stroke="#000" stroke-width="1.20" fill="none" />
<path d="M634 151.8 H669.5 Q672.5 151.8 672.5 148.65 L668.5 144.8 H635 L631 148.65 Q631 151.8 634 151.8 Z" stroke="#000" stroke-width="1.08" fill="#fff" />
<rect x="632.00" y="149.14" width="39.50" height="2.66" rx="1" stroke="#000" stroke-width="0.00" fill="#000" />
<line x1="651.75" y1="145.8" x2="646.75" y2="139.8" stroke="#000" stroke-width="0.96" />
<line x1="651.75" y1="145.8" x2="656.75" y2="139.8" stroke="#000" stroke-width="0.96" />
<line x1="709.4" y1="142.5" x2="715.8462610522051" y2="142.84331256326053" stroke="#000" stroke-width="1.56" />
<line x1="709.4" y1="142.5" x2="716.49636950362" y2="144.3100144926612" stroke="#000" stroke-width="1.56" />
<line x1="709.4" y1="142.5" x2="716.4721430169654" y2="145.5955717750046" stroke="#000" stroke-width="1.56" />
<line x1="709.4" y1="142.5" x2="715.1753052184345" y2="147.26283881781023" stroke="#000" stroke-width="1.56" />
<line x1="709.4" y1="142.5" x2="713.5309944972727" y2="148.17231234733742" stroke="#000" stroke-width="1.56" />
<line x1="709.4" y1="142.5" x2="712.341393292541" y2="149.63939968302662" stroke="#000" stroke-width="1.56" />
<line x1="709.4" y1="142.5" x2="709.6115732301265" y2="151.05339997720844" stroke="#000" stroke-width="1.56" />
<line x1="709.4" y1="142.5" x2="707.8049405243199" y2="150.65009449479143" stroke="#000" stroke-width="1.56" />
<line x1="709.4" y1="142.5" x2="706.6780191318212" y2="150.71796587831196" stroke="#000" stroke-width="1.56" />
<line x1="709.4" y1="142.5" x2="705.940945302458" y2="148.04060073933005" stroke="#000" stroke-width="1.56" />
<line x1="709.4" y1="142.5" x2="703.3749625706666" y2="147.83598231085443" stroke="#000" stroke-width="1.56" />
<line x1="709.4" y1="142.5" x2="702.5845529295702" y2="146.3582183932762" stroke="#000" stroke-width="1.56" />
<line x1="709.4" y1="142.5" x2="701.1160088702758" y2="144.92864890483764" stroke="#000" stroke-width="1.56" />
<line x1="709.4" y1="142.5" x2="701.9854562815331" y2="142.5698425914692" stroke="#000" stroke-width="1.56" />
<line x1="709.4" y1="142.5" x2="701.2534904956673" y2="140.43765955625116" stroke="#000" stroke-width="1.56" />
<line x1="709.4" y1="142.5" x2="703.0949044740765" y2="138.36343748807948" stroke="#000" stroke-width="1.56" />
<line x1="709.4" y1="142.5" x2="703.5292926779979" y2="137.42023835902046" stroke="#000" stroke-width="1.56" />
<line x1="709.4" y1="142.5" x2="704.7615139193734" y2="136.88327757354085" stroke="#000" stroke-width="1.56" />
<line x1="709.4" y1="142.5" x2="707.043000489464" y2="134.68703775791406" stroke="#000" stroke-width="1.56" />
<line x1="709.4" y1="142.5" x2="707.6673026806762" y2="134.3290335377859" stroke="#000" stroke-width="1.56" />
<line x1="709.4" y1="142.5" x2="710.2449955833579" y2="133.8729153391652" stroke="#000" stroke-width="1.56" />
<line x1="709.4" y1="142.5" x2="711.6275077490608" y2="136.11809052587077" stroke="#000" stroke-width="1.56" />
<line x1="709.4" y1="142.5" x2="714.2537077546868" y2="135.6126694783917" stroke="#000" stroke-width="1.56" />
<line x1="709.4" y1="142.5" x2="715.5990471059446" y2="136.85374835873588" stroke="#000" stroke-width="1.56" />
<line x1="709.4" y1="142.5" x2="715.8433349499235" y2="139.45834104676695" stroke="#000" stroke-width="1.56" />
<line x1="709.4" y1="142.5" x2="716.5886505391953" y2="140.42088044148093" stroke="#000" stroke-width="1.56" />
<circle cx="709.40" cy="142.50" r="4.565" stroke="#000" stroke-width="0.00" fill="#000"/>
<rect x="532.20" y="121.40" width="4.00" height="38.60" rx="0" stroke="#000" stroke-width="0.96" fill="#ccc" />
<path d="M536.2 121.4 A36 36 0 0 1 572.5 155.7" stroke="#000" stroke-width="1.08" fill="none" />
<line x1="531.4" y1="121" x2="531.4" y2="126" stroke="#000" stroke-width="1.44" />
<line x1="535" y1="155.7" x2="573" y2="155.7" stroke="#fff" stroke-width="1.92" />
<line x1="535" y1="163.6" x2="573" y2="163.6" stroke="#fff" stroke-width="1.92" />
<line x1="535" y1="155.7" x2="573" y2="155.7" stroke="#000" stroke-width="0.84" stroke-dasharray="5 2"/>
<line x1="535" y1="163.6" x2="573" y2="163.6" stroke="#000" stroke-width="0.84" stroke-dasharray="5 2"/>
<rect x="438.70" y="55.80" width="81.70" height="103.80" rx="0" stroke="#000" stroke-width="2.16" fill="none" />
<path d="M438.70 102.70 L459.50 102.70 L459.50 80.00 L499.00 80.00 L499.00 159.60" stroke="#000" stroke-width="1.20" fill="none" />
<path d="M440.50 101.00 L458.00 101.00 L458.00 78.50 L500.60 78.50 L500.60 159.60" stroke="#000" stroke-width="0.96" fill="none" />
<rect x="473.50" y="69.70" width="10.50" height="3.50" rx="0" stroke="#000" stroke-width="0.00" fill="#000" />
<path d="M438.7 55.8 L473.5 71 M438.7 55.8 L459.5 80 M438.7 102.7 L459.5 80 M459.5 80 L473.5 72.5 M520.4 55.8 L484 71 M520.4 55.8 L499 80 M499 80 L484 72.5" stroke="#000" stroke-width="0.96" fill="none" />
<path d="M519 70 L501 159 M501 82 L519.5 159" stroke="#000" stroke-width="0.96" fill="none" />
<rect x="443.30" y="127.00" width="3.50" height="33.70" rx="0" stroke="#000" stroke-width="0.96" fill="#fff" />
<path d="M446.8 127.8 A32.5 32.5 0 0 1 479 160" stroke="#000" stroke-width="1.08" fill="none" />
<line x1="442" y1="127" x2="442" y2="135" stroke="#000" stroke-width="1.92" />
<line x1="447" y1="159.6" x2="479" y2="159.6" stroke="#fff" stroke-width="1.92" />
<line x1="447" y1="159.6" x2="479" y2="159.6" stroke="#000" stroke-width="1.08" stroke-dasharray="5 2"/>
<line x1="447" y1="163.2" x2="479" y2="163.2" stroke="#000" stroke-width="1.08" stroke-dasharray="5 2"/>
<path d="M416.80 81.80 L429.40 81.80" stroke="#000" stroke-width="1.20" fill="none" />
<line x1="418.5" y1="81.8" x2="418.5" y2="163.2" stroke="#000" stroke-width="1.20" />
<line x1="433.3" y1="90" x2="433.3" y2="159.6" stroke="#000" stroke-width="1.20" />
<line x1="418.5" y1="90.3" x2="433.3" y2="90.3" stroke="#000" stroke-width="1.08" />
<line x1="418.5" y1="124.7" x2="433.3" y2="124.7" stroke="#000" stroke-width="1.08" />
<line x1="418.5" y1="124.7" x2="433.3" y2="90.3" stroke="#000" stroke-width="0.96" />
<line x1="433.3" y1="124.7" x2="418.5" y2="159.6" stroke="#000" stroke-width="0.96" />
<line x1="418.5" y1="159.6" x2="438.7" y2="159.6" stroke="#000" stroke-width="1.20" />
<line x1="418.5" y1="163.2" x2="447" y2="163.2" stroke="#000" stroke-width="1.20" />
<line x1="479" y1="163.2" x2="535" y2="163.2" stroke="#000" stroke-width="1.20" />
<rect x="363.60" y="48.80" width="4.00" height="37.80" rx="0" stroke="#000" stroke-width="1.08" fill="#999" />
<line x1="359.5" y1="82" x2="359.5" y2="90" stroke="#000" stroke-width="1.20" />
<path d="M367 49 A38 38 0 0 1 403 86.5" stroke="#000" stroke-width="1.08" fill="none" />
<path d="M362 50 L365 46.5 L365 50" stroke="#000" stroke-width="1.20" fill="none" />
<rect x="414.40" y="72.30" width="2.20" height="13.70" rx="0" stroke="#000" stroke-width="0.96" fill="#888" />
<path d="M415 72.5 A13 13 0 0 0 403 86.5" stroke="#000" stroke-width="1.08" fill="none" />
<rect x="377.20" y="32.20" width="25.60" height="2.80" rx="0" stroke="#000" stroke-width="0.00" fill="#777" />
<path d="M378.5 35 H401.5 L390 40.8 Z" stroke="#000" stroke-width="0.36" fill="#000" />
<text x="382.70" y="128.40" font-size="6.74" font-weight="bold" textLength="11.50" lengthAdjust="spacingAndGlyphs" stroke="#000" stroke-width="0.3">门厅</text>
<text x="383.80" y="136.14" font-size="6.01" font-weight="bold" textLength="11.20" lengthAdjust="spacingAndGlyphs" stroke="#000" stroke-width="0.55">HALL</text>
<line x1="360" y1="228.3" x2="392.5" y2="228.3" stroke="#000" stroke-width="2.64" />
<circle cx="393.00" cy="228.00" r="1" stroke="#000" stroke-width="0.84" fill="none"/>
<line x1="377.5" y1="240" x2="385.6850758696588" y2="239.83465954716831" stroke="#000" stroke-width="1.56" />
<line x1="377.5" y1="240" x2="386.76546216521695" y2="242.58430255838093" stroke="#000" stroke-width="1.56" />
<line x1="377.5" y1="240" x2="384.1176912937792" y2="243.61702378331364" stroke="#000" stroke-width="1.56" />
<line x1="377.5" y1="240" x2="383.91858085521983" y2="245.07434780946363" stroke="#000" stroke-width="1.56" />
<line x1="377.5" y1="240" x2="381.6302296491698" y2="246.28737765464666" stroke="#000" stroke-width="1.56" />
<line x1="377.5" y1="240" x2="380.96895140429336" y2="247.25184606254751" stroke="#000" stroke-width="1.56" />
<line x1="377.5" y1="240" x2="378.67865960368187" y2="247.1120413836054" stroke="#000" stroke-width="1.56" />
<line x1="377.5" y1="240" x2="376.2496092673331" y2="249.67024472071145" stroke="#000" stroke-width="1.56" />
<line x1="377.5" y1="240" x2="374.16898311734576" y2="248.60435901029464" stroke="#000" stroke-width="1.56" />
<line x1="377.5" y1="240" x2="371.59414267231483" y2="247.45702950584217" stroke="#000" stroke-width="1.56" />
<line x1="377.5" y1="240" x2="370.78794550616664" y2="245.0222252948255" stroke="#000" stroke-width="1.56" />
<line x1="377.5" y1="240" x2="370.76424517304724" y2="243.22748712042917" stroke="#000" stroke-width="1.56" />
<line x1="377.5" y1="240" x2="369.40932924298284" y2="241.3527409692225" stroke="#000" stroke-width="1.56" />
<line x1="377.5" y1="240" x2="367.837766154282" y2="240.047630387853" stroke="#000" stroke-width="1.56" />
<line x1="377.5" y1="240" x2="369.98506733743596" y2="238.48437345816026" stroke="#000" stroke-width="1.56" />
<line x1="377.5" y1="240" x2="369.96170829236047" y2="235.39853963497725" stroke="#000" stroke-width="1.56" />
<line x1="377.5" y1="240" x2="371.72935011417565" y2="235.68597796934455" stroke="#000" stroke-width="1.56" />
<line x1="377.5" y1="240" x2="373.2672988034691" y2="234.24202466516937" stroke="#000" stroke-width="1.56" />
<line x1="377.5" y1="240" x2="375.268940244272" y2="232.68420507811305" stroke="#000" stroke-width="1.56" />
<line x1="377.5" y1="240" x2="376.1396205649407" y2="231.88016166126098" stroke="#000" stroke-width="1.56" />
<line x1="377.5" y1="240" x2="378.52678312647475" y2="231.7061221164194" stroke="#000" stroke-width="1.56" />
<line x1="377.5" y1="240" x2="380.9090025015972" y2="231.66461403590685" stroke="#000" stroke-width="1.56" />
<line x1="377.5" y1="240" x2="381.62651044785224" y2="233.85549069244558" stroke="#000" stroke-width="1.56" />
<line x1="377.5" y1="240" x2="384.8534746248074" y2="234.6479221309989" stroke="#000" stroke-width="1.56" />
<line x1="377.5" y1="240" x2="384.573610590269" y2="235.49976296232947" stroke="#000" stroke-width="1.56" />
<line x1="377.5" y1="240" x2="387.270697528856" y2="238.1113092222233" stroke="#000" stroke-width="1.56" />
<circle cx="377.50" cy="240.00" r="5.2250000000000005" stroke="#000" stroke-width="0.00" fill="#000"/>
<path d="M439 237 H503.5 L506.3 240 V265.5 L503.5 268.5 H439 L436.3 265.5 V240 Z" stroke="#000" stroke-width="1.32" fill="#fff" />
<ellipse cx="449.00" cy="221.40" rx="8.8" ry="1.8" stroke="#000" stroke-width="1.20" fill="#999" />
<path d="M443 222.9 Q438.5 231.4 441 240.9 L457 240.9 Q459.5 231.4 455 222.9 Z" stroke="#000" stroke-width="1.44" fill="#fff" />
<line x1="445.4" y1="223.4" x2="445.4" y2="240.4" stroke="#000" stroke-width="0.96" />
<line x1="447.8" y1="223.4" x2="447.8" y2="240.4" stroke="#000" stroke-width="0.96" />
<line x1="450.2" y1="223.4" x2="450.2" y2="240.4" stroke="#000" stroke-width="0.96" />
<line x1="452.6" y1="223.4" x2="452.6" y2="240.4" stroke="#000" stroke-width="0.96" />
<line x1="440.5" y1="236.4" x2="457.5" y2="236.4" stroke="#000" stroke-width="1.08" />
<line x1="442" y1="225.4" x2="456" y2="225.4" stroke="#000" stroke-width="0.96" />
<ellipse cx="449.00" cy="283.50" rx="8.8" ry="1.8" stroke="#000" stroke-width="1.20" fill="#999" />
<path d="M443 282.0 Q438.5 273.5 441 264.0 L457 264.0 Q459.5 273.5 455 282.0 Z" stroke="#000" stroke-width="1.44" fill="#fff" />
<line x1="445.4" y1="281.5" x2="445.4" y2="264.5" stroke="#000" stroke-width="0.96" />
<line x1="447.8" y1="281.5" x2="447.8" y2="264.5" stroke="#000" stroke-width="0.96" />
<line x1="450.2" y1="281.5" x2="450.2" y2="264.5" stroke="#000" stroke-width="0.96" />
<line x1="452.6" y1="281.5" x2="452.6" y2="264.5" stroke="#000" stroke-width="0.96" />
<line x1="440.5" y1="268.5" x2="457.5" y2="268.5" stroke="#000" stroke-width="1.08" />
<line x1="442" y1="279.5" x2="456" y2="279.5" stroke="#000" stroke-width="0.96" />
<ellipse cx="471.00" cy="221.40" rx="8.8" ry="1.8" stroke="#000" stroke-width="1.20" fill="#999" />
<path d="M465 222.9 Q460.5 231.4 463 240.9 L479 240.9 Q481.5 231.4 477 222.9 Z" stroke="#000" stroke-width="1.44" fill="#fff" />
<line x1="467.4" y1="223.4" x2="467.4" y2="240.4" stroke="#000" stroke-width="0.96" />
<line x1="469.8" y1="223.4" x2="469.8" y2="240.4" stroke="#000" stroke-width="0.96" />
<line x1="472.2" y1="223.4" x2="472.2" y2="240.4" stroke="#000" stroke-width="0.96" />
<line x1="474.6" y1="223.4" x2="474.6" y2="240.4" stroke="#000" stroke-width="0.96" />
<line x1="462.5" y1="236.4" x2="479.5" y2="236.4" stroke="#000" stroke-width="1.08" />
<line x1="464" y1="225.4" x2="478" y2="225.4" stroke="#000" stroke-width="0.96" />
<ellipse cx="471.00" cy="283.50" rx="8.8" ry="1.8" stroke="#000" stroke-width="1.20" fill="#999" />
<path d="M465 282.0 Q460.5 273.5 463 264.0 L479 264.0 Q481.5 273.5 477 282.0 Z" stroke="#000" stroke-width="1.44" fill="#fff" />
<line x1="467.4" y1="281.5" x2="467.4" y2="264.5" stroke="#000" stroke-width="0.96" />
<line x1="469.8" y1="281.5" x2="469.8" y2="264.5" stroke="#000" stroke-width="0.96" />
<line x1="472.2" y1="281.5" x2="472.2" y2="264.5" stroke="#000" stroke-width="0.96" />
<line x1="474.6" y1="281.5" x2="474.6" y2="264.5" stroke="#000" stroke-width="0.96" />
<line x1="462.5" y1="268.5" x2="479.5" y2="268.5" stroke="#000" stroke-width="1.08" />
<line x1="464" y1="279.5" x2="478" y2="279.5" stroke="#000" stroke-width="0.96" />
<ellipse cx="492.00" cy="221.40" rx="8.8" ry="1.8" stroke="#000" stroke-width="1.20" fill="#999" />
<path d="M486 222.9 Q481.5 231.4 484 240.9 L500 240.9 Q502.5 231.4 498 222.9 Z" stroke="#000" stroke-width="1.44" fill="#fff" />
<line x1="488.4" y1="223.4" x2="488.4" y2="240.4" stroke="#000" stroke-width="0.96" />
<line x1="490.8" y1="223.4" x2="490.8" y2="240.4" stroke="#000" stroke-width="0.96" />
<line x1="493.2" y1="223.4" x2="493.2" y2="240.4" stroke="#000" stroke-width="0.96" />
<line x1="495.6" y1="223.4" x2="495.6" y2="240.4" stroke="#000" stroke-width="0.96" />
<line x1="483.5" y1="236.4" x2="500.5" y2="236.4" stroke="#000" stroke-width="1.08" />
<line x1="485" y1="225.4" x2="499" y2="225.4" stroke="#000" stroke-width="0.96" />
<ellipse cx="492.00" cy="283.50" rx="8.8" ry="1.8" stroke="#000" stroke-width="1.20" fill="#999" />
<path d="M486 282.0 Q481.5 273.5 484 264.0 L500 264.0 Q502.5 273.5 498 282.0 Z" stroke="#000" stroke-width="1.44" fill="#fff" />
<line x1="488.4" y1="281.5" x2="488.4" y2="264.5" stroke="#000" stroke-width="0.96" />
<line x1="490.8" y1="281.5" x2="490.8" y2="264.5" stroke="#000" stroke-width="0.96" />
<line x1="493.2" y1="281.5" x2="493.2" y2="264.5" stroke="#000" stroke-width="0.96" />
<line x1="495.6" y1="281.5" x2="495.6" y2="264.5" stroke="#000" stroke-width="0.96" />
<line x1="483.5" y1="268.5" x2="500.5" y2="268.5" stroke="#000" stroke-width="1.08" />
<line x1="485" y1="279.5" x2="499" y2="279.5" stroke="#000" stroke-width="0.96" />
<rect x="447.50" y="244.40" width="45.50" height="16.90" rx="0" stroke="#000" stroke-width="1.32" fill="#fff" />
<line x1="463.83851921597653" y1="251.18826668428235" x2="477.3614807840235" y2="254.81173331571765" stroke="#000" stroke-width="1.32" />
<line x1="466.71091270347404" y1="249.11091270347399" x2="474.489087296526" y2="256.889087296526" stroke="#000" stroke-width="1.32" />
<line x1="468.7882666842824" y1="246.2385192159765" x2="472.41173331571764" y2="259.7614807840235" stroke="#000" stroke-width="1.32" />
<line x1="472.0235047480639" y1="247.68740795541012" x2="469.17649525193616" y2="258.31259204458985" stroke="#000" stroke-width="1.32" />
<line x1="475.54974746830584" y1="248.05025253169416" x2="465.6502525316942" y2="257.9497474683058" stroke="#000" stroke-width="1.32" />
<line x1="475.91259204458987" y1="251.57649525193614" x2="465.2874079554102" y2="254.42350474806386" stroke="#000" stroke-width="1.32" />
<circle cx="470.60" cy="253.00" r="2" stroke="#000" stroke-width="0.00" fill="#000"/>
<line x1="470.6" y1="253" x2="470.6" y2="262" stroke="#000" stroke-width="1.08" />
<text x="461.00" y="202.90" font-size="6.74" font-weight="bold" textLength="11.50" lengthAdjust="spacingAndGlyphs" stroke="#000" stroke-width="0.3">餐厅</text>
<text x="452.80" y="209.84" font-size="6.01" font-weight="bold" textLength="26.00" lengthAdjust="spacingAndGlyphs" stroke="#000" stroke-width="0.55">DINING ROOM</text>
<text x="631.40" y="221.98" font-size="7.17" font-weight="bold" textLength="12.40" lengthAdjust="spacingAndGlyphs" stroke="#000" stroke-width="0.3">客厅</text>
<rect x="592.00" y="163.60" width="104.20" height="20.40" rx="0" stroke="#000" stroke-width="1.20" fill="none" />
<path d="M619 169.8 H668 L671 173 V175.3 H616 V173 Z" stroke="#000" stroke-width="0.96" fill="#fff" />
<line x1="618" y1="170.3" x2="669" y2="170.3" stroke="#555" stroke-width="1.08" />
<line x1="616" y1="174.6" x2="671" y2="174.6" stroke="#000" stroke-width="1.68" />
<circle cx="678.30" cy="169.40" r="1.4" stroke="#000" stroke-width="0.84" fill="none"/>
<circle cx="684.40" cy="169.40" r="1.4" stroke="#000" stroke-width="0.84" fill="none"/>
<circle cx="690.60" cy="169.40" r="1.4" stroke="#000" stroke-width="0.84" fill="none"/>
<line x1="596" y1="176" x2="608.2508322230155" y2="178.48336663493828" stroke="#000" stroke-width="0.84" />
<line x1="596" y1="176" x2="602.7728857056129" y2="181.13595358416575" stroke="#000" stroke-width="0.84" />
<line x1="596" y1="176" x2="601.6966947376271" y2="187.12644008954757" stroke="#000" stroke-width="0.84" />
<line x1="596" y1="176" x2="596.2073749620091" y2="184.497469954353" stroke="#000" stroke-width="0.84" />
<line x1="596" y1="176" x2="590.8528299234101" y2="187.39107721871193" stroke="#000" stroke-width="0.84" />
<line x1="596" y1="176" x2="589.4857066423342" y2="181.46021813211442" stroke="#000" stroke-width="0.84" />
<line x1="596" y1="176" x2="583.8848891600004" y2="179.07800086655686" stroke="#000" stroke-width="0.84" />
<line x1="596" y1="176" x2="587.6694340883495" y2="174.31131068824197" stroke="#000" stroke-width="0.84" />
<line x1="596" y1="176" x2="586.039873962334" y2="168.44712708210918" stroke="#000" stroke-width="0.84" />
<line x1="596" y1="176" x2="592.1262475784135" y2="168.43402073910764" stroke="#000" stroke-width="0.84" />
<line x1="596" y1="176" x2="595.6950368205748" y2="163.50372065536325" stroke="#000" stroke-width="0.84" />
<line x1="596" y1="176" x2="599.5000756520811" y2="168.2540674912759" stroke="#000" stroke-width="0.84" />
<line x1="596" y1="176" x2="605.579843173038" y2="167.97026745277293" stroke="#000" stroke-width="0.84" />
<line x1="596" y1="176" x2="604.2382753711997" y2="173.90695941074134" stroke="#000" stroke-width="0.84" />
<circle cx="596.00" cy="176.50" r="4.8" stroke="#000" stroke-width="1.20" fill="#fff"/>
<circle cx="598.50" cy="172.50" r="3" stroke="#000" stroke-width="1.08" fill="#fff"/>
<circle cx="593.50" cy="179.50" r="2.6" stroke="#000" stroke-width="1.08" fill="#fff"/>
<circle cx="599.50" cy="178.50" r="2.3" stroke="#000" stroke-width="0.96" fill="#fff"/>
<circle cx="594.00" cy="172.00" r="2" stroke="#000" stroke-width="0.96" fill="#fff"/>
<path d="M593 174 Q596 177 594 181 M597 175 Q600 176 599 180" stroke="#000" stroke-width="1.44" fill="none" />
<g transform="translate(711,177.5) rotate(38)">
<rect x="-10.00" y="-6.50" width="20.00" height="13.00" rx="3" stroke="#000" stroke-width="1.32" fill="none" />
<rect x="-7.50" y="-4.50" width="15.00" height="9.00" rx="2" stroke="#000" stroke-width="0.84" fill="none" />
<path d="M-2 0 q2 -3 4 0 M-4 1 l2 2" stroke="#000" stroke-width="0.96" fill="none" />
</g>
<rect x="577.40" y="244.90" width="130.80" height="85.10" rx="0" stroke="#000" stroke-width="1.20" fill="none" />
<rect x="578.80" y="246.40" width="128.00" height="83.60" rx="0" stroke="#000" stroke-width="0.96" fill="none" />
<rect x="578.8" y="246.4" width="128" height="7.9" fill="url(#rugp)" stroke="none"/>
<path d="M579.60 254.50 L585.60 257.90 L579.60 261.30 L585.60 264.70 L579.60 268.10 L585.60 271.50 L579.60 274.90 L585.60 278.30 L579.60 281.70 L585.60 285.10 L579.60 288.50 L585.60 291.90 L579.60 295.30 L585.60 298.70 L579.60 302.10 L585.60 305.50 L579.60 308.90 L585.60 312.30 L579.60 315.70 L585.60 319.10 L579.60 322.50 L585.60 325.90 L579.60 329.30" stroke="#000" stroke-width="1.50" fill="none" />
<circle cx="585.00" cy="254.80" r="1.0" stroke="#000" stroke-width="0.00" fill="#000"/>
<circle cx="585.00" cy="261.60" r="1.0" stroke="#000" stroke-width="0.00" fill="#000"/>
<circle cx="585.00" cy="268.40" r="1.0" stroke="#000" stroke-width="0.00" fill="#000"/>
<circle cx="585.00" cy="275.20" r="1.0" stroke="#000" stroke-width="0.00" fill="#000"/>
<circle cx="585.00" cy="282.00" r="1.0" stroke="#000" stroke-width="0.00" fill="#000"/>
<circle cx="585.00" cy="288.80" r="1.0" stroke="#000" stroke-width="0.00" fill="#000"/>
<circle cx="585.00" cy="295.60" r="1.0" stroke="#000" stroke-width="0.00" fill="#000"/>
<circle cx="585.00" cy="302.40" r="1.0" stroke="#000" stroke-width="0.00" fill="#000"/>
<circle cx="585.00" cy="309.20" r="1.0" stroke="#000" stroke-width="0.00" fill="#000"/>
<circle cx="585.00" cy="316.00" r="1.0" stroke="#000" stroke-width="0.00" fill="#000"/>
<circle cx="585.00" cy="322.80" r="1.0" stroke="#000" stroke-width="0.00" fill="#000"/>
<path d="M700.40 254.50 L706.20 257.90 L700.40 261.30 L706.20 264.70 L700.40 268.10 L706.20 271.50 L700.40 274.90 L706.20 278.30 L700.40 281.70 L706.20 285.10 L700.40 288.50 L706.20 291.90 L700.40 295.30 L706.20 298.70 L700.40 302.10 L706.20 305.50 L700.40 308.90 L706.20 312.30 L700.40 315.70 L706.20 319.10 L700.40 322.50 L706.20 325.90 L700.40 329.30" stroke="#000" stroke-width="1.50" fill="none" />
<circle cx="705.60" cy="254.80" r="1.0" stroke="#000" stroke-width="0.00" fill="#000"/>
<circle cx="705.60" cy="261.60" r="1.0" stroke="#000" stroke-width="0.00" fill="#000"/>
<circle cx="705.60" cy="268.40" r="1.0" stroke="#000" stroke-width="0.00" fill="#000"/>
<circle cx="705.60" cy="275.20" r="1.0" stroke="#000" stroke-width="0.00" fill="#000"/>
<circle cx="705.60" cy="282.00" r="1.0" stroke="#000" stroke-width="0.00" fill="#000"/>
<circle cx="705.60" cy="288.80" r="1.0" stroke="#000" stroke-width="0.00" fill="#000"/>
<circle cx="705.60" cy="295.60" r="1.0" stroke="#000" stroke-width="0.00" fill="#000"/>
<circle cx="705.60" cy="302.40" r="1.0" stroke="#000" stroke-width="0.00" fill="#000"/>
<circle cx="705.60" cy="309.20" r="1.0" stroke="#000" stroke-width="0.00" fill="#000"/>
<circle cx="705.60" cy="316.00" r="1.0" stroke="#000" stroke-width="0.00" fill="#000"/>
<circle cx="705.60" cy="322.80" r="1.0" stroke="#000" stroke-width="0.00" fill="#000"/>
<path d="M586.20 330.00 L586.20 254.20 L699.70 254.20 L699.70 330.00" stroke="#000" stroke-width="1.20" fill="none" />
<rect x="619.60" y="268.20" width="44.60" height="34.80" rx="0" stroke="#000" stroke-width="1.44" fill="#fff" />
<rect x="624.50" y="272.60" width="35.80" height="26.00" rx="0" stroke="#000" stroke-width="1.20" fill="none" />
<path d="M619.6 268.2 L624.5 272.6 M664.2 268.2 L660.3 272.6 M619.6 303 L624.5 298.6 M664.2 303 L660.3 298.6" stroke="#000" stroke-width="0.96" fill="none" />
<path d="M626 284 L640 273.5 M626 291 L637 283 M636 298 L659 281 M644 291 L657 284 M650 298 L660 290" stroke="#000" stroke-width="0.96" fill="none" />
<rect x="591.90" y="313.50" width="100.10" height="34.50" rx="2" stroke="#000" stroke-width="1.44" fill="#fff" />
<rect x="596.30" y="314.50" width="1.70" height="22.50" rx="0" stroke="#000" stroke-width="0.00" fill="#000" />
<rect x="686.00" y="314.50" width="1.70" height="22.50" rx="0" stroke="#000" stroke-width="0.00" fill="#000" />
<line x1="627.6" y1="313.5" x2="627.6" y2="343" stroke="#000" stroke-width="1.20" />
<line x1="657.6" y1="313.5" x2="657.6" y2="343" stroke="#000" stroke-width="1.20" />
<path d="M593.5 338 Q596 343.5 604 343.5 H680 Q688 343.5 690.5 338" stroke="#000" stroke-width="1.08" fill="none" />
<line x1="598" y1="343" x2="686" y2="343" stroke="#000" stroke-width="0.96" />
<line x1="592" y1="346.2" x2="692" y2="346.2" stroke="#000" stroke-width="0.84" />
<path d="M682 314 Q680 328 668 337" stroke="#000" stroke-width="0.96" fill="none" />
<path d="M603.7 337.4 L609.7 332.4 L615.7 337.4 L609.7 342.8 Z" stroke="#000" stroke-width="1.20" fill="#fff" />
<path d="M598.7 337 L603.7 337.4 M615.7 337.4 L620.7 337 M600.7 340 L604.7 338.5 M614.7 338.5 L618.7 340" stroke="#000" stroke-width="1.08" fill="none" />
<path d="M636.4 337.4 L642.4 332.4 L648.4 337.4 L642.4 342.8 Z" stroke="#000" stroke-width="1.20" fill="#fff" />
<path d="M631.4 337 L636.4 337.4 M648.4 337.4 L653.4 337 M633.4 340 L637.4 338.5 M647.4 338.5 L651.4 340" stroke="#000" stroke-width="1.08" fill="none" />
<path d="M665.8 337.4 L671.8 332.4 L677.8 337.4 L671.8 342.8 Z" stroke="#000" stroke-width="1.20" fill="#fff" />
<path d="M660.8 337 L665.8 337.4 M677.8 337.4 L682.8 337 M662.8 340 L666.8 338.5 M676.8 338.5 L680.8 340" stroke="#000" stroke-width="1.08" fill="none" />
<text x="644.60" y="309.30" font-size="6.74" font-weight="bold" textLength="12.40" lengthAdjust="spacingAndGlyphs" stroke="#000" stroke-width="0.3">客厅</text>
<text x="637.00" y="316.19" font-size="5.87" font-weight="bold" textLength="27.10" lengthAdjust="spacingAndGlyphs" stroke="#000" stroke-width="0.55">LIVING ROOM</text>
<g transform="translate(570.6,293.2) rotate(-15.5)">
<path d="M-12 -17 H15.5 V17 H-12 Q-20.5 0 -12 -17 Z" stroke="#000" stroke-width="1.20" fill="#fff" />
<path d="M-11 -16 Q-17 0 -11 16 M-8.5 -13.5 Q-12.5 0 -8.5 13.5" stroke="#000" stroke-width="0.96" fill="none" />
<rect x="-10.00" y="-16.60" width="24.50" height="3.60" rx="0" stroke="#000" stroke-width="0.00" fill="#000" />
<rect x="-10.00" y="13.00" width="24.50" height="3.60" rx="0" stroke="#000" stroke-width="0.00" fill="#000" />
<path d="M-8 -11 L14.5 1.5 L-6 12" stroke="#000" stroke-width="0.96" fill="none" />
<path d="M-10 0.5 L-4.5 -5.5 L1 0.5 L-4.5 6.5 Z" stroke="#000" stroke-width="1.08" fill="#fff" />
<path d="M-7.5 -7.5 Q-5 -5.5 -6 -3 M-7.5 8.5 Q-5 6.5 -6 4" stroke="#000" stroke-width="0.96" fill="none" />
</g>
<g transform="translate(710.1,290.5)">
<path d="M10 -17.9 H-16.7 V17.9 H10 Q19.5 0 10 -17.9 Z" stroke="#000" stroke-width="1.20" fill="#fff" />
<path d="M9.5 -17 Q16 0 9.5 17 M7.5 -14 Q11.5 0 7.5 14" stroke="#000" stroke-width="0.96" fill="none" />
<rect x="-14.50" y="-17.20" width="22.10" height="4.60" rx="0" stroke="#000" stroke-width="0.00" fill="#000" />
<rect x="-14.50" y="12.20" width="22.10" height="4.60" rx="0" stroke="#000" stroke-width="0.00" fill="#000" />
<path d="M-15 11.5 L2.5 -10" stroke="#000" stroke-width="0.96" fill="none" />
<path d="M0.8 -0.4 L6.1 -5.6 L11.2 -0.4 L6.1 5 Z" stroke="#000" stroke-width="1.08" fill="#fff" />
<path d="M2 -9 Q4 -7 3 -5 M4 6 Q2 8 3 10" stroke="#000" stroke-width="0.96" fill="none" />
</g>
<rect x="579.00" y="309.50" width="8.00" height="8.50" rx="0" stroke="#000" stroke-width="0.96" fill="none" />
<circle cx="580.00" cy="327.30" r="12.4" stroke="#000" stroke-width="1.32" fill="#fff"/>
<circle cx="580.00" cy="327.30" r="10.8" stroke="#000" stroke-width="0.96" fill="none"/>
<circle cx="581.60" cy="327.20" r="6.3" stroke="#000" stroke-width="1.08" fill="none"/>
<circle cx="581.60" cy="327.20" r="3.4" stroke="#000" stroke-width="0.96" fill="none"/>
<line x1="576.5" y1="327.2" x2="586.7" y2="327.2" stroke="#000" stroke-width="0.72" />
<line x1="581.6" y1="322" x2="581.6" y2="332.4" stroke="#000" stroke-width="0.72" />
<rect x="696.40" y="314.50" width="26.20" height="26.30" rx="0" stroke="#000" stroke-width="1.32" fill="#fff" />
<rect x="700.00" y="317.80" width="19.50" height="20.20" rx="0" stroke="#000" stroke-width="1.56" fill="none" />
<circle cx="709.60" cy="327.60" r="5.8" stroke="#000" stroke-width="1.08" fill="none"/>
<circle cx="709.60" cy="327.60" r="3.2" stroke="#000" stroke-width="0.96" fill="none"/>
<line x1="702" y1="327.6" x2="717" y2="327.6" stroke="#000" stroke-width="0.72" />
<line x1="709.6" y1="320" x2="709.6" y2="335" stroke="#000" stroke-width="0.72" />
<rect x="692.50" y="322.00" width="3.90" height="12.00" rx="0" stroke="#000" stroke-width="0.96" fill="none" />
<line x1="834.5" y1="16.3" x2="840.5" y2="16.3" stroke="#333" stroke-width="1.20" />
<line x1="834.5" y1="21.3" x2="840.5" y2="21.3" stroke="#333" stroke-width="1.20" />
<line x1="834.5" y1="155.5" x2="840.5" y2="155.5" stroke="#333" stroke-width="1.20" />
<line x1="834.5" y1="159.6" x2="840.5" y2="159.6" stroke="#333" stroke-width="1.20" />
<line x1="834.5" y1="163.7" x2="840.5" y2="163.7" stroke="#333" stroke-width="1.20" />
<line x1="834.5" y1="348" x2="840.5" y2="348" stroke="#333" stroke-width="1.20" />
<line x1="834.5" y1="352.1" x2="840.5" y2="352.1" stroke="#333" stroke-width="1.20" />
<line x1="834.5" y1="356.2" x2="840.5" y2="356.2" stroke="#333" stroke-width="1.20" />
<line x1="834.5" y1="504.5" x2="840.5" y2="504.5" stroke="#333" stroke-width="1.20" />
<line x1="834.5" y1="508.7" x2="840.5" y2="508.7" stroke="#333" stroke-width="1.20" />
<line x1="159.5" y1="534.5" x2="159.5" y2="540.5" stroke="#333" stroke-width="1.20" />
<line x1="163.7" y1="534.5" x2="163.7" y2="540.5" stroke="#333" stroke-width="1.20" />
<line x1="352" y1="534.5" x2="352" y2="540.5" stroke="#333" stroke-width="1.20" />
<line x1="356.2" y1="534.5" x2="356.2" y2="540.5" stroke="#333" stroke-width="1.20" />
<line x1="360.4" y1="534.5" x2="360.4" y2="540.5" stroke="#333" stroke-width="1.20" />
<line x1="430" y1="534.5" x2="430" y2="540.5" stroke="#333" stroke-width="1.20" />
<line x1="434.2" y1="534.5" x2="434.2" y2="540.5" stroke="#333" stroke-width="1.20" />
<line x1="438.4" y1="534.5" x2="438.4" y2="540.5" stroke="#333" stroke-width="1.20" />
<line x1="521.3" y1="534.5" x2="521.3" y2="540.5" stroke="#333" stroke-width="1.20" />
<line x1="525.5" y1="534.5" x2="525.5" y2="540.5" stroke="#333" stroke-width="1.20" />
<line x1="529.7" y1="534.5" x2="529.7" y2="540.5" stroke="#333" stroke-width="1.20" />
<line x1="730" y1="534.5" x2="730" y2="540.5" stroke="#333" stroke-width="1.20" />
<line x1="734.5" y1="534.5" x2="734.5" y2="540.5" stroke="#333" stroke-width="1.20" />
</g>
</svg>
</body></html>
